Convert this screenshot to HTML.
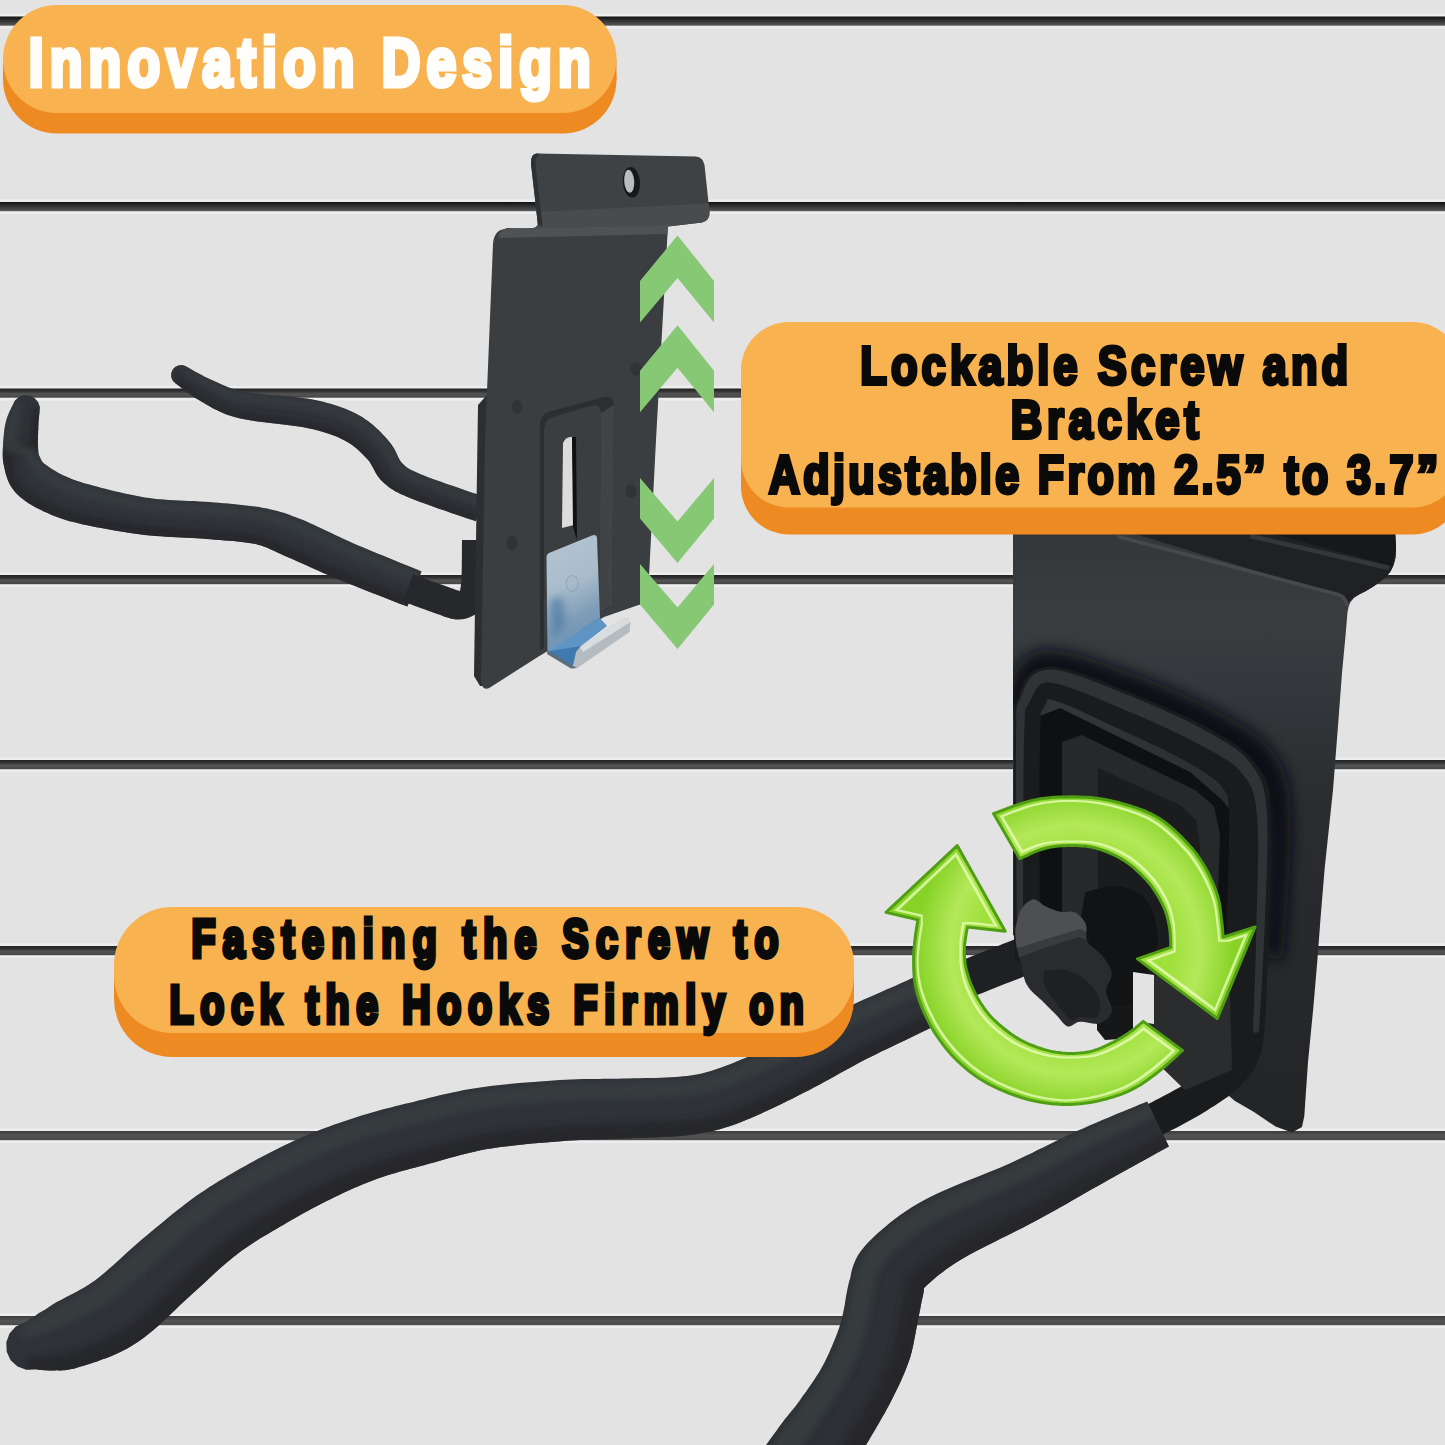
<!DOCTYPE html>
<html lang="en"><head><meta charset="utf-8"><title>Innovation Design</title>
<style>
html,body{margin:0;padding:0;background:#e3e3e3;}
body{width:1445px;height:1445px;overflow:hidden;position:relative;font-family:"Liberation Sans",sans-serif;}
svg{position:absolute;left:0;top:0;display:block}
text{font-family:"Liberation Sans",sans-serif;font-weight:bold;}
</style></head><body>
<svg width="1445" height="1445" viewBox="0 0 1445 1445">
<defs>
<linearGradient id="ln" x1="0" y1="0" x2="0" y2="1"><stop offset="0" stop-color="#111"/><stop offset="0.35" stop-color="#2a2a2a"/><stop offset="1" stop-color="#5a5a5a"/></linearGradient>
<linearGradient id="grn" x1="0" y1="0" x2="1" y2="1"><stop offset="0" stop-color="#a5e23e"/><stop offset="1" stop-color="#7fcf24"/></linearGradient>
<linearGradient id="silver" x1="0" y1="0" x2="0" y2="1"><stop offset="0" stop-color="#b4bfc7"/><stop offset="0.55" stop-color="#9fb0bd"/><stop offset="1" stop-color="#4f8fc6"/></linearGradient>
</defs>
<rect width="1445" height="1445" fill="#e3e3e3"/>

<defs><linearGradient id="ln2" x1="0" y1="0" x2="0" y2="1"><stop offset="0" stop-color="#242424"/><stop offset="0.25" stop-color="#2e2e2e"/><stop offset="0.6" stop-color="#545454"/><stop offset="1" stop-color="#444"/></linearGradient><linearGradient id="ln3" x1="0" y1="0" x2="0" y2="1"><stop offset="0" stop-color="#3c3c3c"/><stop offset="0.5" stop-color="#535353"/><stop offset="1" stop-color="#4a4a4a"/></linearGradient></defs>
<rect x="0" y="14.0" width="1445" height="14.5" fill="#ededed"/>
<rect x="0" y="16.5" width="1445" height="9.2" fill="url(#ln)"/>
<rect x="0" y="199.5" width="1445" height="14.5" fill="#ededed"/>
<rect x="0" y="202.0" width="1445" height="9.2" fill="url(#ln)"/>
<rect x="0" y="386.0" width="1445" height="14.5" fill="#ededed"/>
<rect x="0" y="388.5" width="1445" height="9.2" fill="url(#ln2)"/>
<rect x="0" y="572.5" width="1445" height="14.5" fill="#ededed"/>
<rect x="0" y="575.0" width="1445" height="9.2" fill="url(#ln2)"/>
<rect x="0" y="757.5" width="1445" height="14.5" fill="#ededed"/>
<rect x="0" y="760.0" width="1445" height="9.2" fill="url(#ln2)"/>
<rect x="0" y="943.5" width="1445" height="14.5" fill="#ededed"/>
<rect x="0" y="946.0" width="1445" height="9.2" fill="url(#ln2)"/>
<rect x="0" y="1128.5" width="1445" height="14.5" fill="#ededed"/>
<rect x="0" y="1131.0" width="1445" height="9.2" fill="url(#ln3)"/>
<rect x="0" y="1313.5" width="1445" height="14.5" fill="#ededed"/>
<rect x="0" y="1316.0" width="1445" height="9.2" fill="url(#ln3)"/>
<g id="hookA">
<defs><clipPath id="fc1"><path d="M175.6,383.4 L176.7,384.3 L178.1,385.3 L179.7,386.5 L181.6,388.0 L183.6,389.6 L185.9,391.3 L188.3,393.0 L190.8,394.8 L193.4,396.7 L196.1,398.4 L198.9,400.1 L201.6,401.7 L204.0,403.1 L206.3,404.4 L208.6,405.8 L211.1,407.2 L213.7,408.7 L216.6,410.1 L219.6,411.6 L222.9,413.0 L226.5,414.4 L230.4,415.7 L234.5,417.0 L239.2,418.2 L244.3,419.3 L249.9,420.3 L255.8,421.2 L262.0,422.0 L268.3,422.8 L274.7,423.5 L281.1,424.3 L287.3,425.0 L293.2,425.7 L298.7,426.5 L303.7,427.3 L308.1,428.2 L312.2,429.1 L316.2,430.1 L319.8,431.0 L323.2,432.0 L326.4,433.0 L329.4,434.0 L332.3,435.0 L335.0,436.0 L337.6,437.1 L340.1,438.3 L342.6,439.5 L345.1,440.7 L347.3,442.0 L349.4,443.2 L351.4,444.6 L353.4,446.0 L355.3,447.6 L357.2,449.1 L359.0,450.8 L360.8,452.4 L362.6,454.2 L364.3,455.9 L366.0,457.7 L367.5,459.2 L368.5,460.4 L369.4,461.5 L370.2,462.8 L371.0,464.2 L371.9,465.8 L372.9,467.6 L373.9,469.6 L375.1,471.8 L376.5,474.2 L378.2,476.7 L380.2,479.2 L382.4,481.4 L384.2,483.2 L385.8,484.6 L387.5,486.0 L389.3,487.4 L391.2,488.8 L393.3,490.1 L395.5,491.4 L397.9,492.6 L400.4,493.9 L403.2,495.1 L406.4,496.5 L410.0,498.0 L414.4,499.8 L419.6,501.7 L425.4,503.8 L431.6,506.1 L438.1,508.4 L444.7,510.6 L451.2,512.9 L457.4,515.0 L463.2,517.0 L468.2,518.7 L472.5,520.1 L475.7,521.3 L484.3,496.7 L481.0,495.6 L476.6,494.1 L471.5,492.4 L465.8,490.4 L459.6,488.3 L453.2,486.1 L446.7,483.9 L440.3,481.6 L434.2,479.5 L428.7,477.4 L423.9,475.6 L420.0,474.0 L416.8,472.6 L414.0,471.3 L411.7,470.3 L409.9,469.3 L408.5,468.5 L407.3,467.7 L406.4,467.1 L405.6,466.4 L404.8,465.7 L403.9,464.8 L402.7,463.7 L401.6,462.6 L400.9,461.7 L400.4,460.9 L399.8,459.9 L399.1,458.7 L398.3,457.2 L397.5,455.4 L396.5,453.3 L395.4,451.1 L394.1,448.6 L392.5,446.0 L390.6,443.3 L388.5,440.8 L386.6,438.6 L384.8,436.6 L382.8,434.5 L380.8,432.3 L378.6,430.1 L376.2,427.9 L373.7,425.6 L371.1,423.4 L368.3,421.3 L365.3,419.2 L362.2,417.1 L358.9,415.3 L355.8,413.6 L352.6,412.0 L349.3,410.5 L346.0,409.1 L342.5,407.7 L339.0,406.4 L335.2,405.2 L331.4,404.0 L327.3,402.9 L323.1,401.8 L318.7,400.8 L313.9,399.8 L308.5,398.8 L302.7,398.0 L296.7,397.3 L290.4,396.6 L284.0,396.0 L277.6,395.5 L271.2,394.9 L265.1,394.4 L259.2,393.8 L253.8,393.2 L249.0,392.5 L244.8,391.8 L241.2,391.0 L237.8,390.2 L234.8,389.4 L232.0,388.5 L229.5,387.7 L227.1,386.8 L224.7,385.8 L222.4,384.8 L220.0,383.7 L217.6,382.6 L215.0,381.4 L212.4,380.3 L210.0,379.2 L207.6,378.1 L205.1,376.9 L202.6,375.6 L200.2,374.3 L197.7,373.0 L195.4,371.7 L193.2,370.5 L191.2,369.3 L189.4,368.2 L187.7,367.3 L186.4,366.6 L182.7,365.1 L178.8,365.2 L175.3,366.8 L172.6,369.6 L171.1,373.3 L171.2,377.2 L172.8,380.7Z"/></clipPath></defs>
<path d="M175.6,383.4 L176.7,384.3 L178.1,385.3 L179.7,386.5 L181.6,388.0 L183.6,389.6 L185.9,391.3 L188.3,393.0 L190.8,394.8 L193.4,396.7 L196.1,398.4 L198.9,400.1 L201.6,401.7 L204.0,403.1 L206.3,404.4 L208.6,405.8 L211.1,407.2 L213.7,408.7 L216.6,410.1 L219.6,411.6 L222.9,413.0 L226.5,414.4 L230.4,415.7 L234.5,417.0 L239.2,418.2 L244.3,419.3 L249.9,420.3 L255.8,421.2 L262.0,422.0 L268.3,422.8 L274.7,423.5 L281.1,424.3 L287.3,425.0 L293.2,425.7 L298.7,426.5 L303.7,427.3 L308.1,428.2 L312.2,429.1 L316.2,430.1 L319.8,431.0 L323.2,432.0 L326.4,433.0 L329.4,434.0 L332.3,435.0 L335.0,436.0 L337.6,437.1 L340.1,438.3 L342.6,439.5 L345.1,440.7 L347.3,442.0 L349.4,443.2 L351.4,444.6 L353.4,446.0 L355.3,447.6 L357.2,449.1 L359.0,450.8 L360.8,452.4 L362.6,454.2 L364.3,455.9 L366.0,457.7 L367.5,459.2 L368.5,460.4 L369.4,461.5 L370.2,462.8 L371.0,464.2 L371.9,465.8 L372.9,467.6 L373.9,469.6 L375.1,471.8 L376.5,474.2 L378.2,476.7 L380.2,479.2 L382.4,481.4 L384.2,483.2 L385.8,484.6 L387.5,486.0 L389.3,487.4 L391.2,488.8 L393.3,490.1 L395.5,491.4 L397.9,492.6 L400.4,493.9 L403.2,495.1 L406.4,496.5 L410.0,498.0 L414.4,499.8 L419.6,501.7 L425.4,503.8 L431.6,506.1 L438.1,508.4 L444.7,510.6 L451.2,512.9 L457.4,515.0 L463.2,517.0 L468.2,518.7 L472.5,520.1 L475.7,521.3 L484.3,496.7 L481.0,495.6 L476.6,494.1 L471.5,492.4 L465.8,490.4 L459.6,488.3 L453.2,486.1 L446.7,483.9 L440.3,481.6 L434.2,479.5 L428.7,477.4 L423.9,475.6 L420.0,474.0 L416.8,472.6 L414.0,471.3 L411.7,470.3 L409.9,469.3 L408.5,468.5 L407.3,467.7 L406.4,467.1 L405.6,466.4 L404.8,465.7 L403.9,464.8 L402.7,463.7 L401.6,462.6 L400.9,461.7 L400.4,460.9 L399.8,459.9 L399.1,458.7 L398.3,457.2 L397.5,455.4 L396.5,453.3 L395.4,451.1 L394.1,448.6 L392.5,446.0 L390.6,443.3 L388.5,440.8 L386.6,438.6 L384.8,436.6 L382.8,434.5 L380.8,432.3 L378.6,430.1 L376.2,427.9 L373.7,425.6 L371.1,423.4 L368.3,421.3 L365.3,419.2 L362.2,417.1 L358.9,415.3 L355.8,413.6 L352.6,412.0 L349.3,410.5 L346.0,409.1 L342.5,407.7 L339.0,406.4 L335.2,405.2 L331.4,404.0 L327.3,402.9 L323.1,401.8 L318.7,400.8 L313.9,399.8 L308.5,398.8 L302.7,398.0 L296.7,397.3 L290.4,396.6 L284.0,396.0 L277.6,395.5 L271.2,394.9 L265.1,394.4 L259.2,393.8 L253.8,393.2 L249.0,392.5 L244.8,391.8 L241.2,391.0 L237.8,390.2 L234.8,389.4 L232.0,388.5 L229.5,387.7 L227.1,386.8 L224.7,385.8 L222.4,384.8 L220.0,383.7 L217.6,382.6 L215.0,381.4 L212.4,380.3 L210.0,379.2 L207.6,378.1 L205.1,376.9 L202.6,375.6 L200.2,374.3 L197.7,373.0 L195.4,371.7 L193.2,370.5 L191.2,369.3 L189.4,368.2 L187.7,367.3 L186.4,366.6 L182.7,365.1 L178.8,365.2 L175.3,366.8 L172.6,369.6 L171.1,373.3 L171.2,377.2 L172.8,380.7Z" fill="#303338"/>
<g clip-path="url(#fc1)"><path d="M174.4,384.8 L176.1,386.1 L178.5,388.1 L181.5,390.5 L184.7,392.9 L188.2,395.4 L192.2,398.1 L196.2,400.9 L200.2,403.4 L203.8,405.7 L207.4,407.9 L211.2,410.1 L215.6,412.2 L220.5,414.4 L225.7,416.6 L231.7,418.7 L238.7,420.6 L246.8,422.2 L255.9,423.5 L265.3,424.8 L274.3,426.0 L283.1,427.2 L292.0,428.4 L300.4,429.6 L307.8,430.8 L313.9,432.1 L319.2,433.5 L324.0,434.9 L328.6,436.5 L332.9,438.0 L336.7,439.6 L340.3,441.2 L343.7,443.0 L346.9,444.9 L349.9,446.9 L352.8,449.0 L355.6,451.2 L358.3,453.5 L360.9,455.9 L363.3,458.4 L365.4,460.6 L366.8,462.6 L368.0,464.4 L369.3,466.6 L370.9,469.2 L372.9,472.3 L375.1,475.8 L377.6,479.4 L380.3,482.8 L383.0,485.6 L385.8,487.9 L388.8,490.1 L392.1,492.2 L395.6,494.2 L399.3,496.0 L403.6,497.9 L409.3,500.2 L416.8,503.1 L425.7,506.4 L435.1,509.7 L443.9,512.8 L452.7,515.9 L461.6,519.0 L469.5,521.6 L475.0,523.5 L477.2,524.3 L479.8,515.8 L478.6,515.4 L477.9,515.1 L476.2,514.9 L474.5,515.4 L473.1,516.4 L472.3,517.9 L472.0,519.6 L472.5,521.3 L473.5,522.6 L475.0,523.5 L475.7,523.8 L476.9,524.2 L480.1,515.9 L477.9,515.1 L472.4,513.3 L464.5,510.6 L455.6,507.5 L446.8,504.5 L438.1,501.4 L428.7,498.1 L419.9,494.8 L412.5,492.0 L407.1,489.8 L403.1,488.0 L399.8,486.3 L396.7,484.5 L393.8,482.6 L391.4,480.8 L389.3,478.9 L387.2,476.7 L385.1,474.0 L382.9,470.8 L380.8,467.4 L378.9,464.3 L377.4,461.8 L376.1,459.6 L374.6,457.2 L372.7,454.6 L370.3,451.9 L367.7,449.1 L364.8,446.3 L361.8,443.7 L358.8,441.3 L355.6,438.9 L352.2,436.5 L348.5,434.4 L344.7,432.3 L340.7,430.5 L336.4,428.7 L331.8,427.1 L327.0,425.5 L321.9,424.0 L316.2,422.5 L309.6,421.1 L301.8,419.9 L293.3,418.7 L284.4,417.7 L275.5,416.5 L266.5,415.4 L257.2,414.2 L248.3,413.0 L240.7,411.6 L234.3,410.0 L228.8,408.2 L223.9,406.2 L219.2,404.3 L215.1,402.4 L211.6,400.6 L208.1,398.6 L204.5,396.5 L200.5,394.1 L196.4,391.6 L192.5,389.1 L189.0,386.8 L185.8,384.6 L182.8,382.5 L180.3,380.7 L178.5,379.4 L177.3,378.8 L176.0,378.7 L174.7,379.1 L173.7,380.0 L173.2,381.2 L173.1,382.5 L173.5,383.8Z" fill="#25282c" filter="url(#bl3)" opacity="0.9"/><path d="M182.7,372.5 L184.6,373.7 L187.3,375.5 L190.4,377.5 L193.7,379.5 L197.2,381.5 L201.0,383.6 L204.9,385.8 L208.7,387.8 L212.3,389.7 L215.8,391.5 L219.5,393.3 L223.5,395.0 L227.6,396.6 L231.9,398.2 L236.9,399.7 L242.9,401.1 L250.4,402.2 L258.8,403.3 L267.7,404.3 L276.5,405.3 L285.5,406.3 L294.9,407.4 L303.9,408.5 L311.9,409.7 L318.7,411.1 L324.7,412.7 L330.3,414.3 L335.6,416.0 L340.7,417.9 L345.4,419.8 L349.8,421.9 L354.0,424.2 L358.2,426.7 L362.2,429.5 L366.0,432.4 L369.6,435.3 L372.9,438.3 L375.8,441.2 L378.6,444.1 L381.1,447.1 L383.3,450.2 L385.3,453.5 L387.2,456.8 L389.0,459.8 L390.5,462.4 L391.8,464.6 L393.2,466.8 L394.7,469.0 L396.4,470.8 L398.0,472.5 L400.0,474.0 L402.4,475.6 L405.0,477.1 L407.8,478.6 L411.4,480.3 L416.5,482.4 L423.6,485.1 L432.3,488.3 L441.5,491.6 L450.2,494.7 L458.9,497.7 L467.9,500.8 L475.8,503.5 L481.3,505.3 L483.5,506.1 L485.7,498.6 L484.5,498.2 L483.8,497.9 L482.3,497.7 L480.8,498.1 L479.6,499.0 L478.9,500.4 L478.7,501.9 L479.0,503.3 L480.0,504.6 L481.3,505.3 L482.0,505.6 L483.2,506.0 L486.0,498.7 L483.8,497.9 L478.3,496.1 L470.4,493.4 L461.4,490.4 L452.8,487.3 L444.1,484.3 L434.9,481.0 L426.3,477.8 L419.4,475.2 L414.6,473.1 L411.3,471.6 L408.9,470.2 L406.6,468.9 L404.7,467.6 L403.4,466.5 L402.3,465.3 L401.1,463.9 L399.9,462.3 L398.8,460.5 L397.6,458.3 L396.1,455.7 L394.4,452.7 L392.5,449.3 L390.3,445.6 L387.7,442.0 L385.0,438.6 L382.0,435.3 L378.7,432.0 L375.2,428.9 L371.4,425.7 L367.3,422.5 L362.9,419.4 L358.4,416.6 L353.7,414.1 L348.9,411.8 L343.9,409.7 L338.5,407.8 L332.9,405.9 L327.0,404.2 L320.6,402.6 L313.4,401.2 L305.1,399.9 L295.9,398.9 L286.5,397.9 L277.5,396.9 L268.6,395.9 L259.7,395.0 L251.5,394.1 L244.4,393.1 L238.8,391.9 L234.3,390.7 L230.3,389.3 L226.3,387.8 L222.5,386.3 L219.0,384.8 L215.5,383.1 L212.0,381.4 L208.1,379.5 L204.2,377.6 L200.5,375.6 L197.0,373.8 L193.7,372.0 L190.5,370.1 L187.8,368.5 L185.8,367.4 L184.7,367.0 L183.6,367.0 L182.5,367.5 L181.7,368.4 L181.3,369.5 L181.3,370.7 L181.8,371.7Z" fill="#383c41" filter="url(#bl3)" opacity="0.9"/></g>
<defs><clipPath id="fc2"><path d="M12.5,405.4 L12.2,406.0 L11.8,406.7 L11.3,407.7 L10.8,408.9 L10.1,410.2 L9.5,411.6 L8.8,413.2 L8.1,414.9 L7.4,416.7 L6.8,418.6 L6.2,420.5 L5.7,422.5 L5.3,424.4 L4.9,426.3 L4.6,428.3 L4.3,430.3 L4.1,432.3 L3.9,434.3 L3.7,436.3 L3.5,438.3 L3.3,440.3 L3.2,442.3 L3.1,444.2 L3.0,445.9 L2.9,447.4 L2.8,448.9 L2.8,450.4 L2.7,452.0 L2.7,453.6 L2.7,455.4 L2.8,457.2 L2.9,459.2 L3.1,461.2 L3.4,463.3 L3.9,465.4 L4.3,467.4 L4.7,469.1 L5.0,470.7 L5.4,472.5 L6.0,474.4 L6.6,476.6 L7.4,478.8 L8.3,481.2 L9.5,483.7 L10.9,486.2 L12.6,488.8 L14.5,491.3 L16.7,493.7 L18.9,495.8 L21.1,497.7 L23.4,499.5 L25.7,501.3 L28.2,502.9 L30.7,504.5 L33.2,506.0 L35.8,507.4 L38.4,508.8 L41.1,510.1 L43.8,511.4 L46.5,512.6 L49.1,513.8 L51.7,514.9 L54.4,516.0 L57.1,517.0 L59.9,518.0 L62.8,519.0 L65.8,519.9 L68.9,520.9 L72.2,521.8 L75.7,522.6 L79.3,523.5 L83.2,524.4 L87.4,525.3 L91.9,526.3 L96.6,527.2 L101.5,528.1 L106.7,529.1 L112.0,530.0 L117.4,530.9 L122.9,531.8 L128.3,532.7 L133.8,533.5 L139.3,534.2 L144.7,534.9 L150.1,535.4 L155.5,535.9 L160.9,536.3 L166.3,536.7 L171.6,537.0 L176.9,537.3 L182.1,537.5 L187.1,537.8 L192.1,538.0 L196.9,538.3 L201.6,538.6 L206.1,538.9 L210.8,539.3 L215.5,539.7 L220.1,540.0 L224.7,540.4 L229.2,540.7 L233.5,541.1 L237.7,541.5 L241.7,541.9 L245.6,542.4 L249.2,542.9 L252.7,543.5 L255.9,544.1 L258.8,544.9 L261.4,545.6 L263.7,546.4 L265.9,547.2 L267.9,548.0 L269.9,548.9 L272.1,549.9 L274.4,551.0 L276.9,552.2 L279.7,553.6 L282.9,555.0 L286.3,556.5 L289.8,558.0 L293.4,559.5 L297.1,561.2 L301.1,562.9 L305.2,564.8 L309.5,566.7 L313.9,568.7 L318.5,570.8 L323.3,572.9 L328.2,575.0 L333.2,577.2 L338.4,579.4 L343.9,581.6 L349.9,584.0 L356.3,586.6 L362.9,589.2 L369.7,591.9 L376.4,594.5 L382.9,597.1 L389.1,599.5 L394.8,601.7 L399.8,603.7 L404.1,605.3 L407.4,606.6 L421.6,571.4 L418.2,570.0 L413.9,568.2 L408.9,566.2 L403.2,563.9 L397.1,561.4 L390.6,558.8 L384.0,556.1 L377.4,553.4 L370.9,550.7 L364.6,548.1 L358.8,545.7 L353.6,543.4 L348.8,541.3 L344.2,539.2 L339.6,537.1 L335.1,534.9 L330.6,532.8 L326.3,530.7 L322.0,528.7 L317.8,526.7 L313.6,524.7 L309.6,522.9 L305.5,521.1 L301.7,519.5 L298.2,518.2 L295.1,517.0 L292.2,515.9 L289.3,514.8 L286.5,513.8 L283.5,512.8 L280.5,511.9 L277.4,511.0 L274.1,510.2 L270.7,509.4 L267.1,508.6 L263.1,507.9 L259.0,507.1 L254.7,506.5 L250.3,505.9 L245.9,505.4 L241.4,504.9 L236.9,504.4 L232.3,504.0 L227.7,503.6 L223.0,503.2 L218.4,502.8 L213.8,502.4 L209.1,502.1 L204.1,501.7 L199.1,501.4 L193.9,501.1 L188.8,500.9 L183.7,500.7 L178.6,500.5 L173.5,500.3 L168.5,500.0 L163.6,499.6 L158.7,499.2 L154.0,498.7 L149.3,498.1 L144.6,497.4 L139.7,496.6 L134.7,495.6 L129.7,494.6 L124.6,493.5 L119.6,492.3 L114.6,491.2 L109.8,490.0 L105.2,488.8 L100.8,487.7 L96.6,486.6 L92.8,485.6 L89.3,484.6 L86.1,483.7 L83.2,482.9 L80.6,482.0 L78.1,481.2 L75.8,480.4 L73.7,479.7 L71.6,478.9 L69.6,478.1 L67.6,477.2 L65.6,476.3 L63.5,475.4 L61.5,474.4 L59.5,473.4 L57.6,472.4 L55.8,471.3 L54.0,470.3 L52.3,469.3 L50.8,468.3 L49.4,467.3 L48.1,466.4 L47.0,465.6 L46.0,464.9 L45.3,464.3 L44.9,464.0 L44.5,463.8 L44.1,463.5 L43.7,463.2 L43.3,462.8 L42.8,462.3 L42.3,461.7 L41.8,460.9 L41.3,460.0 L40.8,458.9 L40.2,457.7 L39.7,456.6 L39.4,455.9 L39.1,455.4 L38.9,454.9 L38.8,454.4 L38.6,453.8 L38.5,453.1 L38.4,452.3 L38.3,451.4 L38.2,450.3 L38.1,449.0 L38.1,447.6 L38.0,446.1 L37.9,444.7 L37.9,443.2 L37.9,441.7 L37.9,440.0 L37.9,438.4 L38.0,436.7 L38.0,435.0 L38.1,433.4 L38.1,431.8 L38.2,430.2 L38.3,428.8 L38.3,427.5 L38.3,426.3 L38.4,425.1 L38.4,423.9 L38.5,422.5 L38.6,421.1 L38.7,419.7 L38.9,418.4 L39.0,417.1 L39.1,415.8 L39.3,414.6 L39.4,413.5 L39.5,412.6 L39.9,407.1 L38.1,402.0 L34.5,397.9 L29.6,395.5 L24.1,395.1 L19.0,396.9 L14.9,400.5Z"/></clipPath></defs>
<path d="M12.5,405.4 L12.2,406.0 L11.8,406.7 L11.3,407.7 L10.8,408.9 L10.1,410.2 L9.5,411.6 L8.8,413.2 L8.1,414.9 L7.4,416.7 L6.8,418.6 L6.2,420.5 L5.7,422.5 L5.3,424.4 L4.9,426.3 L4.6,428.3 L4.3,430.3 L4.1,432.3 L3.9,434.3 L3.7,436.3 L3.5,438.3 L3.3,440.3 L3.2,442.3 L3.1,444.2 L3.0,445.9 L2.9,447.4 L2.8,448.9 L2.8,450.4 L2.7,452.0 L2.7,453.6 L2.7,455.4 L2.8,457.2 L2.9,459.2 L3.1,461.2 L3.4,463.3 L3.9,465.4 L4.3,467.4 L4.7,469.1 L5.0,470.7 L5.4,472.5 L6.0,474.4 L6.6,476.6 L7.4,478.8 L8.3,481.2 L9.5,483.7 L10.9,486.2 L12.6,488.8 L14.5,491.3 L16.7,493.7 L18.9,495.8 L21.1,497.7 L23.4,499.5 L25.7,501.3 L28.2,502.9 L30.7,504.5 L33.2,506.0 L35.8,507.4 L38.4,508.8 L41.1,510.1 L43.8,511.4 L46.5,512.6 L49.1,513.8 L51.7,514.9 L54.4,516.0 L57.1,517.0 L59.9,518.0 L62.8,519.0 L65.8,519.9 L68.9,520.9 L72.2,521.8 L75.7,522.6 L79.3,523.5 L83.2,524.4 L87.4,525.3 L91.9,526.3 L96.6,527.2 L101.5,528.1 L106.7,529.1 L112.0,530.0 L117.4,530.9 L122.9,531.8 L128.3,532.7 L133.8,533.5 L139.3,534.2 L144.7,534.9 L150.1,535.4 L155.5,535.9 L160.9,536.3 L166.3,536.7 L171.6,537.0 L176.9,537.3 L182.1,537.5 L187.1,537.8 L192.1,538.0 L196.9,538.3 L201.6,538.6 L206.1,538.9 L210.8,539.3 L215.5,539.7 L220.1,540.0 L224.7,540.4 L229.2,540.7 L233.5,541.1 L237.7,541.5 L241.7,541.9 L245.6,542.4 L249.2,542.9 L252.7,543.5 L255.9,544.1 L258.8,544.9 L261.4,545.6 L263.7,546.4 L265.9,547.2 L267.9,548.0 L269.9,548.9 L272.1,549.9 L274.4,551.0 L276.9,552.2 L279.7,553.6 L282.9,555.0 L286.3,556.5 L289.8,558.0 L293.4,559.5 L297.1,561.2 L301.1,562.9 L305.2,564.8 L309.5,566.7 L313.9,568.7 L318.5,570.8 L323.3,572.9 L328.2,575.0 L333.2,577.2 L338.4,579.4 L343.9,581.6 L349.9,584.0 L356.3,586.6 L362.9,589.2 L369.7,591.9 L376.4,594.5 L382.9,597.1 L389.1,599.5 L394.8,601.7 L399.8,603.7 L404.1,605.3 L407.4,606.6 L421.6,571.4 L418.2,570.0 L413.9,568.2 L408.9,566.2 L403.2,563.9 L397.1,561.4 L390.6,558.8 L384.0,556.1 L377.4,553.4 L370.9,550.7 L364.6,548.1 L358.8,545.7 L353.6,543.4 L348.8,541.3 L344.2,539.2 L339.6,537.1 L335.1,534.9 L330.6,532.8 L326.3,530.7 L322.0,528.7 L317.8,526.7 L313.6,524.7 L309.6,522.9 L305.5,521.1 L301.7,519.5 L298.2,518.2 L295.1,517.0 L292.2,515.9 L289.3,514.8 L286.5,513.8 L283.5,512.8 L280.5,511.9 L277.4,511.0 L274.1,510.2 L270.7,509.4 L267.1,508.6 L263.1,507.9 L259.0,507.1 L254.7,506.5 L250.3,505.9 L245.9,505.4 L241.4,504.9 L236.9,504.4 L232.3,504.0 L227.7,503.6 L223.0,503.2 L218.4,502.8 L213.8,502.4 L209.1,502.1 L204.1,501.7 L199.1,501.4 L193.9,501.1 L188.8,500.9 L183.7,500.7 L178.6,500.5 L173.5,500.3 L168.5,500.0 L163.6,499.6 L158.7,499.2 L154.0,498.7 L149.3,498.1 L144.6,497.4 L139.7,496.6 L134.7,495.6 L129.7,494.6 L124.6,493.5 L119.6,492.3 L114.6,491.2 L109.8,490.0 L105.2,488.8 L100.8,487.7 L96.6,486.6 L92.8,485.6 L89.3,484.6 L86.1,483.7 L83.2,482.9 L80.6,482.0 L78.1,481.2 L75.8,480.4 L73.7,479.7 L71.6,478.9 L69.6,478.1 L67.6,477.2 L65.6,476.3 L63.5,475.4 L61.5,474.4 L59.5,473.4 L57.6,472.4 L55.8,471.3 L54.0,470.3 L52.3,469.3 L50.8,468.3 L49.4,467.3 L48.1,466.4 L47.0,465.6 L46.0,464.9 L45.3,464.3 L44.9,464.0 L44.5,463.8 L44.1,463.5 L43.7,463.2 L43.3,462.8 L42.8,462.3 L42.3,461.7 L41.8,460.9 L41.3,460.0 L40.8,458.9 L40.2,457.7 L39.7,456.6 L39.4,455.9 L39.1,455.4 L38.9,454.9 L38.8,454.4 L38.6,453.8 L38.5,453.1 L38.4,452.3 L38.3,451.4 L38.2,450.3 L38.1,449.0 L38.1,447.6 L38.0,446.1 L37.9,444.7 L37.9,443.2 L37.9,441.7 L37.9,440.0 L37.9,438.4 L38.0,436.7 L38.0,435.0 L38.1,433.4 L38.1,431.8 L38.2,430.2 L38.3,428.8 L38.3,427.5 L38.3,426.3 L38.4,425.1 L38.4,423.9 L38.5,422.5 L38.6,421.1 L38.7,419.7 L38.9,418.4 L39.0,417.1 L39.1,415.8 L39.3,414.6 L39.4,413.5 L39.5,412.6 L39.9,407.1 L38.1,402.0 L34.5,397.9 L29.6,395.5 L24.1,395.1 L19.0,396.9 L14.9,400.5Z" fill="#303338"/>
<g clip-path="url(#fc2)"><path d="M32.6,411.5 L32.4,412.7 L32.0,414.4 L31.6,416.4 L31.3,418.5 L30.9,420.5 L30.6,422.5 L30.3,424.6 L30.1,426.8 L29.9,429.0 L29.7,431.4 L29.5,433.9 L29.5,437.2 L30.4,441.0 L31.4,443.0 L31.8,441.6 L32.3,441.0 L27.4,442.7 L18.8,444.7 L9.6,447.0 L2.2,450.1 L-2.3,456.5 L-1.5,462.9 L0.3,466.3 L1.1,468.3 L1.4,470.4 L1.9,473.4 L2.8,476.8 L4.2,480.3 L6.0,484.1 L8.1,488.1 L10.7,492.1 L13.8,496.0 L17.3,499.4 L21.0,502.4 L24.8,505.1 L28.7,507.6 L32.6,510.0 L36.8,512.1 L40.9,514.1 L44.9,516.0 L49.0,517.8 L53.0,519.4 L57.2,521.0 L61.7,522.5 L66.4,523.9 L71.4,525.3 L76.6,526.6 L82.5,527.9 L89.1,529.3 L96.2,530.7 L103.8,532.1 L111.5,533.5 L119.4,534.7 L127.6,536.0 L136.0,537.2 L144.3,538.2 L152.6,539.0 L160.8,539.6 L168.8,540.1 L176.6,540.6 L184.2,541.0 L191.7,541.4 L198.9,541.8 L206.0,542.3 L213.1,542.7 L220.0,543.2 L226.7,543.8 L233.1,544.4 L239.2,545.0 L245.1,545.7 L250.5,546.5 L255.2,547.4 L259.0,548.4 L262.1,549.4 L265.1,550.7 L268.6,552.1 L272.2,553.7 L275.9,555.5 L280.0,557.5 L284.7,559.7 L289.9,562.0 L295.6,564.6 L301.7,567.2 L308.1,570.0 L314.7,573.0 L321.6,576.0 L329.0,579.2 L337.0,582.6 L346.1,586.3 L356.0,590.2 L365.9,594.1 L375.1,597.7 L384.1,601.3 L393.1,604.7 L400.8,607.7 L406.2,609.8 L408.4,610.7 L412.9,598.6 L411.7,598.1 L410.9,597.8 L408.5,597.4 L406.0,597.9 L403.9,599.3 L402.6,601.5 L402.1,603.9 L402.7,606.4 L404.1,608.5 L406.2,609.8 L407.0,610.1 L408.2,610.6 L413.1,598.7 L410.9,597.8 L405.5,595.7 L397.8,592.6 L388.9,589.1 L379.9,585.6 L370.7,581.9 L360.8,578.0 L351.1,574.0 L342.1,570.4 L334.3,567.0 L327.0,563.7 L320.2,560.7 L313.6,557.7 L307.2,554.8 L301.1,552.1 L295.5,549.6 L290.3,547.3 L285.7,545.2 L281.5,543.3 L277.5,541.6 L273.6,540.0 L269.8,538.6 L266.3,537.3 L262.3,536.2 L257.8,535.1 L252.5,534.1 L246.7,533.3 L240.6,532.6 L234.4,531.9 L227.8,531.3 L221.0,530.7 L214.0,530.2 L206.8,529.7 L199.6,529.3 L192.3,528.9 L184.9,528.5 L177.4,528.1 L169.6,527.6 L161.6,527.1 L153.7,526.5 L145.8,525.7 L137.7,524.6 L129.6,523.3 L121.5,522.0 L113.7,520.6 L106.2,519.1 L98.8,517.7 L91.9,516.1 L85.5,514.7 L79.9,513.3 L74.9,512.0 L70.3,510.7 L66.0,509.3 L61.9,507.9 L58.1,506.5 L54.4,505.0 L50.7,503.3 L46.9,501.5 L43.1,499.7 L39.5,497.7 L36.1,495.7 L32.7,493.5 L29.4,491.2 L26.5,488.9 L24.1,486.6 L21.9,483.9 L19.7,480.9 L17.8,477.7 L16.3,474.8 L15.2,472.4 L14.5,470.2 L13.9,467.8 L13.1,464.5 L11.5,460.8 L10.1,458.5 L9.7,459.3 L8.9,460.3 L13.3,458.6 L21.7,456.4 L30.9,454.1 L38.1,451.3 L42.8,445.9 L42.7,439.7 L41.4,436.9 L41.0,435.8 L41.1,434.3 L41.1,432.0 L41.2,429.7 L41.3,427.5 L41.3,425.4 L41.4,423.4 L41.5,421.5 L41.5,419.6 L41.6,417.7 L41.8,415.8 L41.9,414.0 L42.0,412.8 L41.9,410.9 L41.1,409.3 L39.8,408.0 L38.0,407.4 L36.2,407.5 L34.5,408.3 L33.2,409.7Z" fill="#25282c" filter="url(#bl3)" opacity="0.9"/><path d="M14.0,405.1 L13.5,406.2 L12.8,407.7 L11.9,409.6 L11.0,411.8 L10.1,414.1 L9.2,416.7 L8.2,419.5 L7.4,422.4 L6.8,425.4 L6.3,428.4 L5.9,431.4 L5.6,433.9 L5.0,436.1 L3.9,439.4 L3.5,444.4 L6.6,449.9 L12.3,453.0 L19.0,455.2 L25.3,457.0 L28.9,458.3 L28.5,458.0 L27.7,455.5 L27.3,456.5 L27.2,460.0 L28.1,462.6 L28.8,464.6 L29.7,466.6 L30.7,468.5 L31.6,470.2 L32.7,471.8 L34.0,473.3 L35.6,474.9 L37.5,476.5 L39.6,478.2 L42.1,479.9 L44.8,481.6 L47.7,483.3 L50.9,485.1 L54.2,486.8 L57.5,488.4 L60.7,489.9 L64.0,491.2 L67.5,492.6 L71.2,493.9 L75.2,495.2 L79.4,496.5 L84.1,497.8 L89.3,499.2 L95.5,500.7 L102.3,502.3 L109.5,504.0 L116.8,505.5 L124.3,507.0 L132.0,508.5 L139.9,509.9 L147.7,511.0 L155.4,511.8 L163.0,512.4 L170.5,512.9 L178.0,513.4 L185.6,513.8 L193.2,514.2 L200.8,514.5 L208.1,515.0 L215.2,515.5 L222.2,516.0 L229.0,516.6 L235.6,517.2 L242.3,518.0 L248.8,518.7 L255.0,519.6 L260.7,520.6 L265.7,521.6 L270.3,522.8 L274.6,524.1 L279.0,525.5 L283.2,527.0 L287.3,528.6 L291.5,530.4 L296.3,532.5 L301.8,534.9 L307.7,537.5 L314.0,540.4 L320.4,543.3 L326.8,546.3 L333.4,549.4 L340.5,552.6 L348.2,556.0 L357.1,559.7 L366.8,563.7 L376.5,567.6 L385.6,571.3 L394.5,574.9 L403.4,578.5 L411.2,581.5 L416.6,583.7 L418.8,584.6 L422.8,573.9 L421.6,573.4 L420.9,573.1 L418.7,572.7 L416.5,573.2 L414.7,574.4 L413.4,576.3 L413.0,578.5 L413.5,580.6 L414.7,582.5 L416.6,583.7 L417.3,584.0 L418.5,584.5 L423.0,574.0 L420.9,573.1 L415.4,570.9 L407.7,567.8 L398.8,564.2 L389.9,560.6 L380.9,556.9 L371.2,552.9 L361.6,549.0 L352.9,545.3 L345.3,541.9 L338.4,538.6 L331.9,535.5 L325.4,532.5 L318.9,529.5 L312.7,526.6 L306.6,523.9 L301.0,521.4 L296.1,519.4 L291.6,517.6 L287.2,516.0 L282.6,514.5 L277.9,513.1 L273.1,511.9 L268.1,510.7 L262.7,509.7 L256.6,508.7 L250.2,507.8 L243.5,507.0 L236.8,506.3 L230.0,505.6 L223.1,505.0 L216.0,504.4 L208.8,503.9 L201.3,503.5 L193.7,503.1 L186.1,502.8 L178.6,502.3 L171.1,501.9 L163.7,501.4 L156.4,500.8 L149.1,500.0 L141.7,498.8 L134.1,497.4 L126.6,495.8 L119.3,494.2 L112.1,492.6 L105.1,490.9 L98.4,489.1 L92.4,487.5 L87.3,486.1 L82.9,484.9 L78.9,483.6 L75.2,482.4 L71.8,481.1 L68.7,479.9 L65.7,478.6 L62.8,477.3 L59.7,475.8 L56.7,474.2 L53.8,472.6 L51.3,471.1 L49.0,469.6 L47.0,468.2 L45.2,466.8 L43.7,465.6 L42.6,464.7 L42.0,464.1 L41.4,463.5 L40.8,462.6 L40.0,461.4 L39.2,459.9 L38.5,458.4 L38.1,457.8 L38.1,458.5 L38.5,457.1 L37.5,452.0 L33.8,448.8 L28.5,446.8 L22.1,445.0 L16.2,443.2 L13.4,441.9 L13.7,442.3 L14.0,441.7 L14.9,439.2 L15.7,435.7 L16.0,432.5 L16.3,429.7 L16.6,427.0 L17.1,424.5 L17.6,422.0 L18.2,419.5 L18.9,417.0 L19.6,414.8 L20.2,412.8 L20.8,411.0 L21.4,409.5 L21.8,408.4 L22.1,406.8 L21.8,405.2 L20.9,403.8 L19.5,402.9 L17.9,402.6 L16.3,402.9 L14.9,403.8Z" fill="#383c41" filter="url(#bl3)" opacity="0.9"/></g>
<path d="M403.1,601.6 L404.6,602.2 L406.7,602.9 L409.1,603.8 L411.9,604.8 L414.8,605.9 L417.9,607.0 L421.1,608.2 L424.3,609.3 L427.4,610.4 L430.3,611.5 L433.0,612.4 L435.2,613.2 L437.1,613.9 L438.8,614.5 L440.5,615.1 L442.1,615.7 L443.7,616.4 L445.4,617.0 L447.1,617.6 L449.0,618.1 L450.9,618.7 L453.1,619.1 L455.4,619.4 L457.7,619.5 L459.9,619.4 L462.0,619.3 L464.1,618.9 L466.2,618.4 L468.3,617.8 L470.3,617.0 L472.3,616.0 L474.3,614.9 L476.1,613.6 L477.8,612.2 L479.5,610.5 L480.8,608.9 L481.8,607.5 L482.7,606.1 L483.6,604.5 L484.5,602.6 L485.2,600.6 L485.8,598.6 L486.2,596.7 L486.4,594.7 L486.6,592.7 L486.8,590.6 L486.9,588.4 L487.0,585.8 L487.0,582.6 L487.1,579.0 L487.0,574.9 L486.9,570.6 L486.8,566.0 L486.7,561.5 L486.5,556.9 L486.4,552.6 L486.3,548.6 L486.2,545.1 L486.1,542.2 L486.0,539.9 L462.0,540.1 L462.0,542.4 L461.9,545.4 L461.9,549.0 L461.9,552.9 L461.9,557.2 L461.8,561.7 L461.8,566.2 L461.7,570.6 L461.6,574.7 L461.4,578.5 L461.2,581.7 L461.0,584.2 L460.8,586.3 L460.5,588.1 L460.3,589.5 L460.1,590.5 L459.9,591.1 L459.7,591.4 L459.6,591.3 L459.6,591.1 L459.7,590.8 L459.7,590.7 L459.5,590.9 L459.2,591.1 L459.1,591.1 L459.2,590.9 L459.3,590.8 L459.4,590.7 L459.4,590.6 L459.4,590.6 L459.4,590.5 L459.3,590.5 L459.1,590.5 L458.9,590.5 L458.6,590.5 L458.3,590.5 L458.1,590.5 L457.9,590.4 L457.6,590.3 L457.0,590.2 L456.1,589.9 L455.1,589.6 L453.9,589.1 L452.4,588.6 L450.8,588.0 L448.9,587.3 L446.9,586.5 L444.8,585.8 L442.5,585.0 L439.9,584.1 L437.1,583.1 L434.1,582.0 L431.0,580.9 L427.8,579.8 L424.7,578.7 L421.8,577.6 L419.0,576.6 L416.6,575.7 L414.5,574.9 L412.9,574.4Z" fill="#26282b"/>
<path d="M487.0,395.0 L478.0,405.0 L474.0,676.0 L480.0,686.0 L492.0,686.0 L495.0,395.0Z" fill="#2c2f32"/>
<path d="M537,153.5 L696,156.5 Q703,157 704.5,165 L709.5,212 Q710,220.5 702,222.5 L668,226.5 L546,233.5 Q539,233 538,225 L531,164 Q530.5,153.5 537,153.5Z" fill="#3e4244"/>
<path d="M536.5,212 L709,203.5 L709.5,212 Q710,220.5 702,222.5 L668,226.5 L546,233.5 Q539,233 538,225Z" fill="#484c4e"/>
<path d="M538.2,221 Q538.5,228.5 529,228.5 L506,228 L498,238 L546,233.5Z" fill="#44484a"/>
<path d="M531,164 Q530.5,153.5 537,153.5 L540,154 Q535,156 535.5,164 L542.5,226 L538,225Z" fill="#2e3133"/>
<ellipse cx="631.4" cy="182.3" rx="8.6" ry="15.3" fill="#17181a" transform="rotate(-4 631.4 182.3)"/><ellipse cx="629.2" cy="181.3" rx="5" ry="11.5" fill="#b9bdbd" transform="rotate(-4 629.2 181.3)"/>
<path d="M505,229 L668,225 L656,440 L648,596 Q647,602 640,604.5 L604,617 L538.6,656.4 L490,687.5 Q482,692 481,680 L485,440 L493,244 Q494,230 505,229Z" fill="#3a3e40"/>
<path d="M505,229 L668,225 L667.5,234 L498,238 Q500,230 505,229Z" fill="#4e5254"/>
<path d="M544,430 Q544,420 553,417 L590,406 Q601,403 601,413 L599,612 L612,606 L614,405 Q614,395 604,397 L548,412 Q540,415 540,425 L540,650 L544,648Z" fill="#2c2f31"/>
<path d="M601,413 L614,405 L612,606 L599,612Z" fill="#404446"/>
<path d="M563,443 Q566,436 572,437 L574,525 L562,528Z" fill="#dcdcdc"/><path d="M572,437 L576,437 L577,540 L573,527Z" fill="#111"/>
<ellipse cx="517" cy="407" rx="5.5" ry="7" fill="#303436"/>
<ellipse cx="636" cy="369" rx="5.5" ry="7" fill="#303436"/>
<ellipse cx="512" cy="543" rx="5.5" ry="7" fill="#303436"/>
<ellipse cx="631" cy="491" rx="5.5" ry="7" fill="#303436"/>
<defs><linearGradient id="clipg" x1="0" y1="0" x2="0.25" y2="1"><stop offset="0" stop-color="#b6c5d1"/><stop offset="0.5" stop-color="#a9bccb"/><stop offset="0.8" stop-color="#7f9db8"/><stop offset="1" stop-color="#6c93b6"/></linearGradient></defs>
<path d="M546.5,557 Q546.5,554 549,553 L592,535.5 Q596.5,534 597,538 L600,618 L547.5,652Z" fill="url(#clipg)"/>
<path d="M550.0,600.0 L562.0,596.0 L566.0,625.0 L552.0,640.0Z" fill="#4d7ba6" opacity="0.75" filter="url(#bl2)"/>
<ellipse cx="572.3" cy="583.5" rx="6" ry="8" fill="none" stroke="#97a9b8" stroke-width="1.2"/>
<path d="M547.5,651.5 L600.0,618.0 L607.0,626.0 L581.0,646.0 L575.0,664.0 L571.0,666.0Z" fill="#5f95c4"/>
<path d="M547.5,651.5 L581.0,646.0 L575.0,664.0 L571.0,666.0Z" fill="#3f79ae"/>
<path d="M580.0,647.0 L623.4,618.3 L628.0,618.5 L630.5,622.0 L629.6,632.0 L577.3,668.0 L573.0,665.7 L576.0,652.0Z" fill="#b4bcc1"/>
<path d="M580.0,647.0 L623.4,618.3 L628.0,618.5 L630.5,622.0 L583.0,652.0Z" fill="#d8dde0"/>
<path d="M547.5,650.5 L573.0,665.7 L577.3,668.0 L571.0,668.5 L547.0,654.0Z" fill="#5d6d7a"/>
</g>
<path d="M677.5,235.4 L714.0,280.9 L714.0,322.4 L677.5,277.9 L640.0,322.4 L640.0,280.9Z" fill="#86c873"/>
<path d="M677.5,325.2 L714.0,370.7 L714.0,412.2 L677.5,367.7 L640.0,412.2 L640.0,370.7Z" fill="#86c873"/>
<path d="M640.0,478.0 L677.5,521.5 L714.0,478.0 L714.0,518.5 L677.5,563.0 L640.0,518.5Z" fill="#86c873"/>
<path d="M640.0,564.0 L677.5,607.5 L714.0,564.0 L714.0,604.5 L677.5,649.0 L640.0,604.5Z" fill="#86c873"/>
<g id="hookB">
<defs><linearGradient id="plg" x1="0" y1="0" x2="0" y2="1"><stop offset="0" stop-color="#34373a"/><stop offset="0.15" stop-color="#3a3d40"/><stop offset="0.28" stop-color="#33363a"/><stop offset="0.45" stop-color="#2a2c2f"/><stop offset="1" stop-color="#222426"/></linearGradient><filter id="bl3" x="-10%" y="-10%" width="120%" height="120%"><feGaussianBlur stdDeviation="3.5"/></filter><filter id="bl2" x="-50%" y="-50%" width="200%" height="200%"><feGaussianBlur stdDeviation="4"/></filter><filter id="bl" x="-20%" y="-20%" width="140%" height="140%"><feGaussianBlur stdDeviation="7"/></filter><clipPath id="plc"><path d="M1013,530 L1346,530 L1347.5,612 L1342,673 L1333,790 L1324.8,867 L1317.4,960 L1303,1124 L1243,1094 L1150,1030 L1013,935Z"/></clipPath></defs>
<path d="M1013,530 L1395,530 L1396,550 Q1396,566 1387,576 Q1375,587 1359,594.5 Q1348.5,600 1347.5,612 L1345.5,636 L1342,673 L1337.8,728.5 L1333,790 L1324.8,867 L1320.8,915 L1317.4,960 L1313.3,1008 L1308,1062 L1304.3,1116 L1302,1127 L1292,1132.5 L1275.5,1126.6 L1254,1112 L1235,1101 L1150,1030 L1013,935Z" fill="url(#plg)"/>
<path d="M1122,530 L1395,530 L1396,550 Q1396,566 1387,576 Q1375,587 1359,594.5 Q1350,599 1348,604 L1342,597Z" fill="#1f2124"/>
<path d="M1258.0,530.0 L1395.0,530.0 L1396.0,551.0 L1392.0,566.0Z" fill="#17181a"/>
<path d="M1250,536 L1389,568" stroke="#34373a" stroke-width="4.5" fill="none"/>
<path d="M1118,536.5 L1338,594.5 Q1346,597 1347.5,606" stroke="#45494c" stroke-width="3.5" fill="none"/>
<g clip-path="url(#plc)"><path d="M1032.9,707.6 L1034.6,704.9 L1036.3,701.4 L1037.8,698.1 L1039.1,695.0 L1040.5,692.1 L1041.9,689.5 L1043.3,687.4 L1044.6,686.1 L1045.5,685.5 L1045.9,685.5 L1045.8,685.8 L1046.2,686.0 L1048.5,686.3 L1052.6,687.0 L1057.9,688.3 L1064.0,690.1 L1070.7,692.3 L1077.8,694.9 L1085.3,697.7 L1093.0,700.7 L1100.7,703.8 L1108.3,706.9 L1115.8,709.9 L1122.9,712.7 L1129.6,715.4 L1136.4,718.1 L1143.3,721.0 L1150.2,724.0 L1157.1,727.0 L1164.0,730.1 L1170.7,733.1 L1177.2,736.2 L1183.5,739.2 L1189.6,742.1 L1195.3,745.0 L1200.7,747.7 L1206.0,750.4 L1211.0,752.9 L1215.7,755.2 L1220.1,757.4 L1224.1,759.5 L1227.7,761.4 L1231.0,763.3 L1234.0,765.2 L1236.8,767.1 L1239.3,769.0 L1241.7,771.0 L1244.1,773.5 L1246.8,776.3 L1249.4,779.0 L1251.6,781.4 L1253.5,783.6 L1255.3,785.8 L1256.9,788.2 L1258.5,791.0 L1260.0,794.3 L1261.5,798.4 L1262.8,803.3 L1264.0,809.2 L1265.0,816.0 L1265.8,824.3 L1266.3,834.4 L1266.6,846.0 L1266.6,858.6 L1266.4,871.8 L1266.1,885.3 L1265.7,898.6 L1265.2,911.4 L1264.8,923.3 L1264.4,933.8 L1264.1,942.8 L1264.0,949.6 L1264.6,953.5 L1266.7,956.8 L1269.8,959.1 L1273.6,960.0 L1277.5,959.4 L1280.8,957.3 L1283.1,954.2 L1284.0,950.4 L1284.4,943.7 L1285.0,934.9 L1285.8,924.4 L1286.6,912.5 L1287.5,899.7 L1288.4,886.3 L1289.3,872.7 L1290.0,859.3 L1290.6,846.3 L1291.0,834.3 L1291.2,823.4 L1291.0,814.0 L1290.5,806.1 L1290.0,799.0 L1289.2,792.6 L1288.3,786.7 L1287.1,781.1 L1285.6,775.9 L1283.8,771.1 L1281.7,766.5 L1279.5,762.3 L1277.1,758.3 L1274.6,754.5 L1271.9,750.5 L1268.5,746.2 L1264.7,742.0 L1260.7,738.2 L1256.5,734.7 L1252.2,731.4 L1247.8,728.4 L1243.3,725.6 L1238.8,723.0 L1234.1,720.4 L1229.3,717.7 L1224.4,715.1 L1219.3,712.3 L1213.7,709.3 L1207.6,706.1 L1201.2,702.9 L1194.6,699.7 L1187.7,696.4 L1180.7,693.2 L1173.5,690.0 L1166.2,686.8 L1158.9,683.8 L1151.5,680.8 L1144.3,678.0 L1137.1,675.3 L1130.0,672.7 L1122.5,669.9 L1114.7,667.1 L1106.7,664.2 L1098.5,661.3 L1090.3,658.6 L1082.2,656.1 L1074.2,653.9 L1066.4,652.1 L1058.9,650.7 L1051.5,650.0 L1043.8,650.0 L1035.7,651.7 L1028.3,655.2 L1022.4,659.9 L1018.0,665.0 L1014.8,670.2 L1012.4,675.3 L1010.7,679.9 L1009.4,684.1 L1008.4,687.7 L1007.7,690.3 L1007.4,691.6 L1007.1,692.4 L1005.1,697.9 L1005.5,703.8 L1008.0,709.0 L1012.4,712.9 L1017.9,714.9 L1023.8,714.5 L1029.0,712.0Z" fill="#101113" filter="url(#bl)" opacity="0.95"/></g>
<path d="M928.8,1018.8 L930.7,1017.9 L932.8,1016.7 L935.2,1015.4 L937.8,1014.0 L940.6,1012.4 L943.6,1010.8 L946.8,1009.1 L950.1,1007.4 L953.6,1005.6 L957.2,1003.8 L960.9,1002.1 L964.7,1000.4 L968.8,998.6 L973.4,996.6 L978.4,994.6 L983.7,992.4 L989.1,990.3 L994.7,988.0 L1000.3,985.8 L1005.9,983.6 L1011.4,981.5 L1016.6,979.4 L1021.6,977.5 L1026.2,975.6 L1030.5,973.8 L1034.8,972.1 L1038.9,970.3 L1043.0,968.7 L1046.9,967.0 L1050.7,965.5 L1054.2,964.0 L1057.5,962.6 L1060.5,961.4 L1063.1,960.3 L1065.4,959.3 L1067.3,958.5 L1052.7,923.5 L1050.8,924.3 L1048.5,925.2 L1045.8,926.3 L1042.8,927.6 L1039.6,928.9 L1036.1,930.4 L1032.4,931.9 L1028.5,933.6 L1024.4,935.2 L1020.3,936.9 L1016.1,938.7 L1011.8,940.4 L1007.4,942.2 L1002.6,944.1 L997.4,946.2 L992.0,948.3 L986.4,950.5 L980.8,952.7 L975.1,954.9 L969.5,957.2 L964.1,959.4 L958.8,961.6 L953.9,963.6 L949.3,965.6 L944.9,967.6 L940.7,969.6 L936.6,971.6 L932.8,973.6 L929.1,975.5 L925.7,977.3 L922.5,979.0 L919.5,980.6 L916.9,982.1 L914.6,983.3 L912.7,984.3 L911.2,985.2Z" fill="#1f2023"/>
<defs><clipPath id="fc3"><path d="M35.7,1369.3 L36.5,1369.4 L37.5,1369.6 L38.8,1369.7 L40.3,1369.9 L42.0,1370.1 L43.8,1370.2 L45.8,1370.3 L47.8,1370.4 L49.9,1370.5 L52.1,1370.5 L54.4,1370.4 L56.4,1370.3 L58.0,1370.3 L59.3,1370.4 L60.8,1370.4 L62.6,1370.3 L64.5,1370.2 L66.7,1369.9 L69.1,1369.5 L71.7,1369.0 L74.5,1368.4 L77.5,1367.6 L80.6,1366.6 L83.7,1365.7 L86.7,1364.7 L89.9,1363.7 L93.5,1362.5 L97.6,1361.2 L101.9,1359.6 L106.6,1357.9 L111.5,1355.9 L116.6,1353.7 L121.8,1351.2 L127.2,1348.4 L132.6,1345.3 L138.1,1341.8 L143.4,1338.1 L148.5,1334.1 L153.4,1330.1 L158.1,1326.0 L162.6,1321.8 L167.0,1317.7 L171.3,1313.6 L175.5,1309.5 L179.5,1305.6 L183.4,1301.9 L187.2,1298.4 L191.0,1294.9 L195.1,1291.3 L199.3,1287.4 L203.4,1283.7 L207.4,1279.9 L211.4,1276.2 L215.4,1272.6 L219.2,1269.1 L223.0,1265.7 L226.8,1262.5 L230.5,1259.4 L234.1,1256.4 L237.7,1253.7 L241.2,1251.0 L244.9,1248.4 L248.6,1245.9 L252.3,1243.4 L256.1,1241.0 L259.9,1238.6 L263.8,1236.3 L267.8,1233.9 L271.8,1231.6 L275.8,1229.2 L279.9,1226.8 L284.0,1224.4 L288.0,1222.1 L292.0,1219.8 L295.9,1217.5 L299.9,1215.3 L303.8,1213.1 L307.7,1210.9 L311.6,1208.8 L315.5,1206.8 L319.4,1204.7 L323.2,1202.7 L327.1,1200.8 L330.9,1198.9 L334.8,1197.0 L338.6,1195.2 L342.5,1193.3 L346.3,1191.6 L350.2,1189.8 L354.0,1188.1 L357.9,1186.4 L361.7,1184.8 L365.6,1183.2 L369.4,1181.7 L373.3,1180.2 L377.1,1178.8 L380.9,1177.5 L384.5,1176.2 L388.2,1175.1 L391.8,1173.9 L395.5,1172.9 L399.2,1171.8 L403.0,1170.8 L407.0,1169.7 L411.1,1168.6 L415.4,1167.5 L419.9,1166.3 L424.7,1165.0 L429.7,1163.6 L434.7,1162.2 L439.8,1160.7 L444.9,1159.3 L450.1,1157.8 L455.2,1156.4 L460.4,1155.0 L465.6,1153.7 L470.9,1152.4 L476.2,1151.2 L481.6,1150.1 L487.0,1149.1 L492.6,1148.2 L498.7,1147.3 L505.0,1146.5 L511.6,1145.7 L518.2,1144.9 L525.0,1144.2 L531.8,1143.6 L538.6,1143.0 L545.3,1142.4 L551.8,1141.9 L558.1,1141.4 L564.1,1140.9 L569.6,1140.5 L574.9,1140.2 L580.0,1140.0 L585.1,1139.7 L590.0,1139.6 L595.0,1139.4 L599.9,1139.3 L604.9,1139.2 L610.0,1139.0 L615.1,1138.9 L620.4,1138.7 L625.6,1138.5 L630.8,1138.3 L636.0,1138.1 L641.4,1137.9 L646.9,1137.7 L652.4,1137.5 L657.9,1137.3 L663.5,1137.1 L669.1,1136.8 L674.6,1136.5 L680.0,1136.0 L685.4,1135.5 L690.6,1134.9 L695.3,1134.2 L699.6,1133.6 L703.8,1132.8 L707.9,1132.1 L711.9,1131.2 L715.8,1130.3 L719.8,1129.2 L723.7,1128.0 L727.7,1126.8 L731.8,1125.4 L736.0,1123.9 L740.5,1122.2 L745.3,1120.3 L750.4,1118.3 L755.5,1116.1 L760.7,1113.7 L765.9,1111.3 L771.3,1108.8 L776.6,1106.3 L781.9,1103.7 L787.3,1101.0 L792.6,1098.4 L797.8,1095.7 L803.1,1093.1 L808.4,1090.4 L813.8,1087.5 L819.2,1084.7 L824.5,1081.8 L829.8,1078.9 L835.0,1076.0 L840.2,1073.1 L845.4,1070.3 L850.5,1067.5 L855.5,1064.8 L860.4,1062.1 L865.3,1059.6 L870.3,1057.0 L875.7,1054.4 L881.2,1051.6 L886.9,1048.9 L892.5,1046.2 L898.1,1043.5 L903.6,1040.9 L908.8,1038.4 L913.8,1036.0 L918.4,1033.8 L922.6,1031.8 L926.3,1030.0 L929.4,1028.4 L932.1,1027.1 L934.3,1025.9 L936.3,1024.9 L937.9,1024.1 L939.2,1023.3 L940.4,1022.7 L941.3,1022.2 L942.1,1021.7 L942.7,1021.4 L943.1,1021.1 L943.7,1020.8 L920.3,974.4 L919.5,974.7 L918.7,975.2 L917.9,975.5 L917.2,975.9 L916.4,976.2 L915.5,976.6 L914.4,977.2 L913.0,977.8 L911.3,978.6 L909.2,979.5 L906.7,980.7 L903.7,982.0 L900.2,983.6 L896.1,985.4 L891.5,987.4 L886.5,989.6 L881.2,992.0 L875.5,994.4 L869.8,997.0 L863.9,999.6 L857.9,1002.3 L852.1,1005.0 L846.3,1007.7 L840.7,1010.4 L835.2,1013.1 L829.8,1015.9 L824.3,1018.7 L819.0,1021.6 L813.7,1024.4 L808.4,1027.3 L803.2,1030.1 L798.1,1032.8 L793.1,1035.5 L788.1,1038.1 L783.2,1040.5 L778.3,1042.9 L773.3,1045.3 L768.1,1047.7 L762.9,1050.1 L757.8,1052.4 L752.7,1054.7 L747.6,1057.0 L742.6,1059.1 L737.8,1061.1 L733.2,1063.0 L728.7,1064.8 L724.5,1066.3 L720.5,1067.8 L716.7,1069.1 L713.2,1070.2 L710.1,1071.2 L707.2,1072.0 L704.5,1072.7 L702.0,1073.4 L699.4,1073.9 L696.7,1074.4 L693.8,1074.9 L690.7,1075.4 L687.2,1075.9 L683.4,1076.3 L679.5,1076.7 L675.4,1077.0 L670.9,1077.3 L666.1,1077.5 L661.2,1077.7 L656.0,1077.9 L650.8,1078.0 L645.4,1078.1 L639.9,1078.2 L634.4,1078.3 L628.9,1078.4 L623.6,1078.5 L618.5,1078.7 L613.7,1078.7 L608.8,1078.8 L603.9,1078.8 L598.9,1078.9 L593.8,1078.9 L588.6,1079.0 L583.3,1079.1 L577.7,1079.2 L572.0,1079.4 L566.0,1079.7 L559.9,1080.1 L553.7,1080.5 L547.2,1080.9 L540.5,1081.4 L533.6,1081.9 L526.5,1082.5 L519.3,1083.1 L512.1,1083.7 L504.9,1084.4 L497.7,1085.2 L490.7,1086.0 L483.8,1086.9 L477.0,1087.9 L470.4,1089.0 L464.0,1090.1 L457.7,1091.4 L451.5,1092.7 L445.5,1094.0 L439.7,1095.3 L434.1,1096.7 L428.6,1098.0 L423.4,1099.4 L418.3,1100.6 L413.4,1101.9 L408.7,1103.0 L404.1,1104.1 L399.5,1105.2 L395.1,1106.3 L390.8,1107.4 L386.5,1108.5 L382.3,1109.6 L378.1,1110.8 L373.8,1111.9 L369.5,1113.2 L365.2,1114.5 L360.8,1115.8 L356.3,1117.2 L351.8,1118.7 L347.3,1120.2 L342.8,1121.7 L338.3,1123.2 L333.8,1124.8 L329.4,1126.4 L324.9,1128.1 L320.4,1129.8 L315.9,1131.5 L311.4,1133.3 L307.0,1135.2 L302.5,1137.1 L298.0,1139.1 L293.5,1141.1 L289.0,1143.2 L284.6,1145.3 L280.1,1147.5 L275.7,1149.7 L271.3,1151.9 L266.9,1154.2 L262.5,1156.5 L258.1,1158.8 L253.7,1161.2 L249.4,1163.6 L245.2,1165.9 L240.9,1168.3 L236.6,1170.7 L232.3,1173.2 L227.9,1175.7 L223.5,1178.4 L219.0,1181.1 L214.4,1183.9 L209.8,1186.8 L205.2,1189.9 L200.5,1193.0 L195.7,1196.3 L191.0,1199.8 L186.3,1203.3 L181.6,1206.9 L177.0,1210.5 L172.5,1214.1 L168.0,1217.7 L163.6,1221.4 L159.3,1225.0 L155.0,1228.5 L150.8,1232.1 L146.7,1235.5 L142.4,1239.1 L137.8,1243.0 L133.2,1247.0 L128.7,1251.1 L124.3,1255.0 L120.1,1258.9 L116.0,1262.7 L112.0,1266.3 L108.2,1269.6 L104.6,1272.8 L101.2,1275.6 L98.1,1278.1 L95.3,1280.2 L92.6,1282.1 L89.7,1284.1 L86.6,1286.0 L83.4,1287.9 L80.0,1289.8 L76.6,1291.7 L73.2,1293.5 L69.7,1295.3 L66.2,1297.1 L62.8,1298.9 L59.4,1300.7 L56.3,1302.3 L53.9,1303.7 L52.2,1304.8 L50.8,1305.7 L49.6,1306.5 L48.6,1307.2 L47.7,1307.9 L46.7,1308.6 L45.7,1309.3 L44.5,1310.0 L43.0,1310.8 L41.3,1311.8 L39.6,1312.7 L38.2,1313.6 L37.0,1314.5 L35.7,1315.4 L34.3,1316.3 L32.9,1317.3 L31.4,1318.2 L30.1,1319.1 L28.8,1320.0 L27.5,1320.8 L26.3,1321.5 L25.2,1322.2 L24.3,1322.7 L15.8,1326.6 L9.5,1333.5 L6.3,1342.3 L6.7,1351.7 L10.6,1360.2 L17.5,1366.5 L26.3,1369.7Z"/></clipPath></defs>
<path d="M35.7,1369.3 L36.5,1369.4 L37.5,1369.6 L38.8,1369.7 L40.3,1369.9 L42.0,1370.1 L43.8,1370.2 L45.8,1370.3 L47.8,1370.4 L49.9,1370.5 L52.1,1370.5 L54.4,1370.4 L56.4,1370.3 L58.0,1370.3 L59.3,1370.4 L60.8,1370.4 L62.6,1370.3 L64.5,1370.2 L66.7,1369.9 L69.1,1369.5 L71.7,1369.0 L74.5,1368.4 L77.5,1367.6 L80.6,1366.6 L83.7,1365.7 L86.7,1364.7 L89.9,1363.7 L93.5,1362.5 L97.6,1361.2 L101.9,1359.6 L106.6,1357.9 L111.5,1355.9 L116.6,1353.7 L121.8,1351.2 L127.2,1348.4 L132.6,1345.3 L138.1,1341.8 L143.4,1338.1 L148.5,1334.1 L153.4,1330.1 L158.1,1326.0 L162.6,1321.8 L167.0,1317.7 L171.3,1313.6 L175.5,1309.5 L179.5,1305.6 L183.4,1301.9 L187.2,1298.4 L191.0,1294.9 L195.1,1291.3 L199.3,1287.4 L203.4,1283.7 L207.4,1279.9 L211.4,1276.2 L215.4,1272.6 L219.2,1269.1 L223.0,1265.7 L226.8,1262.5 L230.5,1259.4 L234.1,1256.4 L237.7,1253.7 L241.2,1251.0 L244.9,1248.4 L248.6,1245.9 L252.3,1243.4 L256.1,1241.0 L259.9,1238.6 L263.8,1236.3 L267.8,1233.9 L271.8,1231.6 L275.8,1229.2 L279.9,1226.8 L284.0,1224.4 L288.0,1222.1 L292.0,1219.8 L295.9,1217.5 L299.9,1215.3 L303.8,1213.1 L307.7,1210.9 L311.6,1208.8 L315.5,1206.8 L319.4,1204.7 L323.2,1202.7 L327.1,1200.8 L330.9,1198.9 L334.8,1197.0 L338.6,1195.2 L342.5,1193.3 L346.3,1191.6 L350.2,1189.8 L354.0,1188.1 L357.9,1186.4 L361.7,1184.8 L365.6,1183.2 L369.4,1181.7 L373.3,1180.2 L377.1,1178.8 L380.9,1177.5 L384.5,1176.2 L388.2,1175.1 L391.8,1173.9 L395.5,1172.9 L399.2,1171.8 L403.0,1170.8 L407.0,1169.7 L411.1,1168.6 L415.4,1167.5 L419.9,1166.3 L424.7,1165.0 L429.7,1163.6 L434.7,1162.2 L439.8,1160.7 L444.9,1159.3 L450.1,1157.8 L455.2,1156.4 L460.4,1155.0 L465.6,1153.7 L470.9,1152.4 L476.2,1151.2 L481.6,1150.1 L487.0,1149.1 L492.6,1148.2 L498.7,1147.3 L505.0,1146.5 L511.6,1145.7 L518.2,1144.9 L525.0,1144.2 L531.8,1143.6 L538.6,1143.0 L545.3,1142.4 L551.8,1141.9 L558.1,1141.4 L564.1,1140.9 L569.6,1140.5 L574.9,1140.2 L580.0,1140.0 L585.1,1139.7 L590.0,1139.6 L595.0,1139.4 L599.9,1139.3 L604.9,1139.2 L610.0,1139.0 L615.1,1138.9 L620.4,1138.7 L625.6,1138.5 L630.8,1138.3 L636.0,1138.1 L641.4,1137.9 L646.9,1137.7 L652.4,1137.5 L657.9,1137.3 L663.5,1137.1 L669.1,1136.8 L674.6,1136.5 L680.0,1136.0 L685.4,1135.5 L690.6,1134.9 L695.3,1134.2 L699.6,1133.6 L703.8,1132.8 L707.9,1132.1 L711.9,1131.2 L715.8,1130.3 L719.8,1129.2 L723.7,1128.0 L727.7,1126.8 L731.8,1125.4 L736.0,1123.9 L740.5,1122.2 L745.3,1120.3 L750.4,1118.3 L755.5,1116.1 L760.7,1113.7 L765.9,1111.3 L771.3,1108.8 L776.6,1106.3 L781.9,1103.7 L787.3,1101.0 L792.6,1098.4 L797.8,1095.7 L803.1,1093.1 L808.4,1090.4 L813.8,1087.5 L819.2,1084.7 L824.5,1081.8 L829.8,1078.9 L835.0,1076.0 L840.2,1073.1 L845.4,1070.3 L850.5,1067.5 L855.5,1064.8 L860.4,1062.1 L865.3,1059.6 L870.3,1057.0 L875.7,1054.4 L881.2,1051.6 L886.9,1048.9 L892.5,1046.2 L898.1,1043.5 L903.6,1040.9 L908.8,1038.4 L913.8,1036.0 L918.4,1033.8 L922.6,1031.8 L926.3,1030.0 L929.4,1028.4 L932.1,1027.1 L934.3,1025.9 L936.3,1024.9 L937.9,1024.1 L939.2,1023.3 L940.4,1022.7 L941.3,1022.2 L942.1,1021.7 L942.7,1021.4 L943.1,1021.1 L943.7,1020.8 L920.3,974.4 L919.5,974.7 L918.7,975.2 L917.9,975.5 L917.2,975.9 L916.4,976.2 L915.5,976.6 L914.4,977.2 L913.0,977.8 L911.3,978.6 L909.2,979.5 L906.7,980.7 L903.7,982.0 L900.2,983.6 L896.1,985.4 L891.5,987.4 L886.5,989.6 L881.2,992.0 L875.5,994.4 L869.8,997.0 L863.9,999.6 L857.9,1002.3 L852.1,1005.0 L846.3,1007.7 L840.7,1010.4 L835.2,1013.1 L829.8,1015.9 L824.3,1018.7 L819.0,1021.6 L813.7,1024.4 L808.4,1027.3 L803.2,1030.1 L798.1,1032.8 L793.1,1035.5 L788.1,1038.1 L783.2,1040.5 L778.3,1042.9 L773.3,1045.3 L768.1,1047.7 L762.9,1050.1 L757.8,1052.4 L752.7,1054.7 L747.6,1057.0 L742.6,1059.1 L737.8,1061.1 L733.2,1063.0 L728.7,1064.8 L724.5,1066.3 L720.5,1067.8 L716.7,1069.1 L713.2,1070.2 L710.1,1071.2 L707.2,1072.0 L704.5,1072.7 L702.0,1073.4 L699.4,1073.9 L696.7,1074.4 L693.8,1074.9 L690.7,1075.4 L687.2,1075.9 L683.4,1076.3 L679.5,1076.7 L675.4,1077.0 L670.9,1077.3 L666.1,1077.5 L661.2,1077.7 L656.0,1077.9 L650.8,1078.0 L645.4,1078.1 L639.9,1078.2 L634.4,1078.3 L628.9,1078.4 L623.6,1078.5 L618.5,1078.7 L613.7,1078.7 L608.8,1078.8 L603.9,1078.8 L598.9,1078.9 L593.8,1078.9 L588.6,1079.0 L583.3,1079.1 L577.7,1079.2 L572.0,1079.4 L566.0,1079.7 L559.9,1080.1 L553.7,1080.5 L547.2,1080.9 L540.5,1081.4 L533.6,1081.9 L526.5,1082.5 L519.3,1083.1 L512.1,1083.7 L504.9,1084.4 L497.7,1085.2 L490.7,1086.0 L483.8,1086.9 L477.0,1087.9 L470.4,1089.0 L464.0,1090.1 L457.7,1091.4 L451.5,1092.7 L445.5,1094.0 L439.7,1095.3 L434.1,1096.7 L428.6,1098.0 L423.4,1099.4 L418.3,1100.6 L413.4,1101.9 L408.7,1103.0 L404.1,1104.1 L399.5,1105.2 L395.1,1106.3 L390.8,1107.4 L386.5,1108.5 L382.3,1109.6 L378.1,1110.8 L373.8,1111.9 L369.5,1113.2 L365.2,1114.5 L360.8,1115.8 L356.3,1117.2 L351.8,1118.7 L347.3,1120.2 L342.8,1121.7 L338.3,1123.2 L333.8,1124.8 L329.4,1126.4 L324.9,1128.1 L320.4,1129.8 L315.9,1131.5 L311.4,1133.3 L307.0,1135.2 L302.5,1137.1 L298.0,1139.1 L293.5,1141.1 L289.0,1143.2 L284.6,1145.3 L280.1,1147.5 L275.7,1149.7 L271.3,1151.9 L266.9,1154.2 L262.5,1156.5 L258.1,1158.8 L253.7,1161.2 L249.4,1163.6 L245.2,1165.9 L240.9,1168.3 L236.6,1170.7 L232.3,1173.2 L227.9,1175.7 L223.5,1178.4 L219.0,1181.1 L214.4,1183.9 L209.8,1186.8 L205.2,1189.9 L200.5,1193.0 L195.7,1196.3 L191.0,1199.8 L186.3,1203.3 L181.6,1206.9 L177.0,1210.5 L172.5,1214.1 L168.0,1217.7 L163.6,1221.4 L159.3,1225.0 L155.0,1228.5 L150.8,1232.1 L146.7,1235.5 L142.4,1239.1 L137.8,1243.0 L133.2,1247.0 L128.7,1251.1 L124.3,1255.0 L120.1,1258.9 L116.0,1262.7 L112.0,1266.3 L108.2,1269.6 L104.6,1272.8 L101.2,1275.6 L98.1,1278.1 L95.3,1280.2 L92.6,1282.1 L89.7,1284.1 L86.6,1286.0 L83.4,1287.9 L80.0,1289.8 L76.6,1291.7 L73.2,1293.5 L69.7,1295.3 L66.2,1297.1 L62.8,1298.9 L59.4,1300.7 L56.3,1302.3 L53.9,1303.7 L52.2,1304.8 L50.8,1305.7 L49.6,1306.5 L48.6,1307.2 L47.7,1307.9 L46.7,1308.6 L45.7,1309.3 L44.5,1310.0 L43.0,1310.8 L41.3,1311.8 L39.6,1312.7 L38.2,1313.6 L37.0,1314.5 L35.7,1315.4 L34.3,1316.3 L32.9,1317.3 L31.4,1318.2 L30.1,1319.1 L28.8,1320.0 L27.5,1320.8 L26.3,1321.5 L25.2,1322.2 L24.3,1322.7 L15.8,1326.6 L9.5,1333.5 L6.3,1342.3 L6.7,1351.7 L10.6,1360.2 L17.5,1366.5 L26.3,1369.7Z" fill="#2f3237"/>
<g clip-path="url(#fc3)"><path d="M34.1,1373.8 L35.5,1374.0 L37.5,1374.4 L40.0,1374.8 L42.7,1375.1 L45.7,1375.4 L49.0,1375.6 L52.3,1375.8 L55.3,1375.9 L57.8,1376.1 L60.4,1376.2 L63.6,1376.1 L67.3,1375.8 L71.3,1375.1 L75.4,1374.3 L80.0,1373.2 L84.8,1371.9 L90.0,1370.4 L95.8,1368.7 L102.3,1366.6 L109.2,1363.9 L116.6,1360.7 L124.7,1356.9 L133.3,1352.6 L141.7,1347.5 L149.8,1341.6 L157.5,1335.3 L164.7,1328.9 L171.5,1322.8 L177.9,1316.8 L184.1,1310.9 L190.0,1305.1 L195.8,1299.5 L201.8,1293.9 L207.9,1288.3 L213.8,1282.8 L219.7,1277.5 L225.4,1272.4 L230.9,1267.5 L236.3,1262.9 L241.6,1258.7 L246.9,1254.8 L252.2,1251.1 L257.7,1247.5 L263.4,1244.0 L269.1,1240.4 L275.1,1236.9 L281.1,1233.4 L287.1,1229.9 L293.1,1226.4 L299.0,1223.0 L304.9,1219.6 L310.7,1216.4 L316.5,1213.2 L322.3,1210.2 L328.0,1207.2 L333.7,1204.3 L339.4,1201.5 L345.2,1198.8 L350.8,1196.1 L356.5,1193.5 L362.2,1191.0 L368.0,1188.6 L373.6,1186.4 L379.2,1184.3 L384.5,1182.4 L389.8,1180.7 L395.2,1179.0 L400.9,1177.4 L406.8,1175.7 L412.9,1174.1 L419.4,1172.4 L426.3,1170.5 L433.6,1168.4 L441.2,1166.2 L448.9,1164.0 L456.6,1161.9 L464.3,1159.9 L472.0,1158.0 L479.8,1156.2 L488.0,1154.6 L496.8,1153.2 L506.2,1151.9 L515.9,1150.8 L525.6,1149.7 L535.4,1148.8 L545.4,1147.9 L555.2,1147.1 L564.4,1146.4 L572.6,1145.9 L580.3,1145.5 L587.7,1145.2 L595.3,1144.9 L602.9,1144.6 L610.4,1144.4 L617.9,1144.1 L625.7,1143.9 L633.7,1143.6 L641.8,1143.4 L650.1,1143.1 L658.3,1142.7 L666.6,1142.2 L675.0,1141.6 L683.3,1141.0 L691.1,1140.2 L698.1,1139.2 L704.6,1138.1 L710.8,1136.9 L717.1,1135.4 L723.4,1133.6 L729.5,1131.7 L735.8,1129.6 L742.5,1127.0 L749.8,1124.1 L757.6,1120.7 L765.5,1117.2 L773.4,1113.5 L781.4,1109.7 L789.4,1105.7 L797.5,1101.7 L805.5,1097.5 L813.6,1093.3 L821.6,1089.0 L829.6,1084.6 L837.4,1080.4 L845.1,1076.2 L852.5,1072.1 L860.0,1068.0 L867.6,1064.0 L875.7,1059.9 L884.0,1055.8 L892.4,1051.7 L900.3,1047.8 L908.0,1044.1 L915.5,1040.5 L922.5,1037.1 L928.4,1034.2 L933.0,1032.0 L936.5,1030.2 L939.2,1028.7 L941.5,1027.5 L943.4,1026.4 L944.8,1025.6 L945.7,1025.1 L946.3,1024.7 L946.5,1024.6 L937.9,1009.2 L937.7,1009.3 L937.6,1009.3 L935.0,1011.6 L933.4,1014.6 L933.1,1018.1 L934.2,1021.4 L936.4,1024.0 L939.5,1025.6 L942.9,1025.9 L946.2,1024.8 L946.3,1024.7 L946.5,1024.6 L937.9,1009.2 L937.5,1009.4 L936.8,1009.8 L936.0,1010.2 L934.9,1010.8 L933.2,1011.7 L930.9,1012.9 L928.3,1014.2 L924.9,1015.9 L920.5,1018.0 L914.7,1020.8 L907.8,1024.0 L900.1,1027.6 L892.3,1031.3 L884.4,1035.1 L875.9,1039.1 L867.4,1043.2 L859.1,1047.3 L851.2,1051.5 L843.5,1055.6 L836.0,1059.7 L828.4,1063.8 L820.6,1068.0 L812.6,1072.3 L804.7,1076.5 L796.8,1080.6 L788.9,1084.6 L780.9,1088.5 L773.0,1092.3 L765.3,1095.9 L757.5,1099.4 L749.8,1102.8 L742.3,1105.9 L735.4,1108.7 L729.1,1111.0 L723.4,1112.9 L717.9,1114.6 L712.3,1116.1 L706.6,1117.4 L701.0,1118.5 L695.2,1119.4 L688.8,1120.2 L681.5,1121.0 L673.7,1121.5 L665.5,1122.0 L657.3,1122.5 L649.3,1122.8 L641.2,1123.1 L633.1,1123.3 L625.1,1123.5 L617.4,1123.7 L609.8,1123.9 L602.2,1124.1 L594.5,1124.3 L586.9,1124.6 L579.4,1124.9 L571.5,1125.2 L563.0,1125.7 L553.7,1126.4 L543.7,1127.1 L533.5,1128.0 L523.5,1129.0 L513.6,1130.0 L503.7,1131.1 L493.8,1132.4 L484.4,1133.8 L475.5,1135.5 L467.2,1137.3 L459.2,1139.2 L451.3,1141.2 L443.3,1143.2 L435.3,1145.4 L427.7,1147.6 L420.6,1149.5 L413.9,1151.3 L407.4,1152.9 L401.1,1154.6 L394.9,1156.3 L388.9,1158.0 L383.3,1159.7 L377.6,1161.5 L371.7,1163.5 L365.7,1165.6 L359.7,1167.9 L353.6,1170.3 L347.6,1172.8 L341.6,1175.3 L335.6,1178.0 L329.6,1180.7 L323.6,1183.6 L317.6,1186.5 L311.6,1189.5 L305.6,1192.5 L299.5,1195.7 L293.5,1199.0 L287.4,1202.4 L281.3,1205.8 L275.3,1209.3 L269.2,1212.7 L263.0,1216.3 L256.8,1219.9 L250.7,1223.6 L244.8,1227.3 L239.0,1231.1 L233.0,1235.1 L227.0,1239.4 L221.0,1244.1 L215.1,1249.0 L209.3,1253.9 L203.4,1259.0 L197.3,1264.3 L191.1,1269.8 L184.9,1275.5 L178.6,1281.1 L172.5,1286.9 L166.5,1292.6 L160.6,1298.2 L154.3,1303.9 L147.7,1309.8 L140.8,1315.9 L134.1,1321.5 L127.6,1326.3 L120.8,1330.5 L113.5,1334.4 L106.2,1338.0 L99.4,1341.2 L93.4,1343.8 L88.0,1345.9 L82.8,1347.7 L77.9,1349.5 L73.5,1351.0 L69.6,1352.2 L66.2,1353.3 L63.3,1354.1 L61.0,1354.6 L59.3,1355.0 L57.1,1355.2 L54.5,1355.5 L51.5,1355.9 L48.5,1356.3 L45.5,1356.7 L42.9,1357.0 L40.7,1357.2 L38.5,1357.3 L36.6,1357.4 L35.2,1357.5 L32.1,1357.9 L29.3,1359.5 L27.4,1362.0 L26.5,1365.0 L26.9,1368.2 L28.5,1371.0 L31.0,1372.9Z" fill="#25282c" filter="url(#bl3)" opacity="0.9"/><path d="M29.7,1338.5 L31.0,1338.1 L32.9,1337.4 L35.1,1336.7 L37.3,1335.9 L39.7,1335.0 L42.1,1334.1 L44.6,1333.2 L46.9,1332.3 L49.0,1331.6 L51.1,1330.9 L53.3,1330.0 L55.7,1329.0 L58.2,1328.0 L60.6,1326.9 L63.2,1325.7 L66.4,1324.3 L70.8,1322.3 L76.1,1320.0 L81.9,1317.4 L87.6,1314.6 L93.0,1311.9 L98.6,1308.9 L104.4,1305.6 L110.4,1301.6 L116.4,1297.1 L122.1,1292.3 L127.8,1287.3 L133.7,1282.1 L140.0,1276.4 L146.5,1270.4 L153.0,1264.4 L159.4,1258.7 L165.6,1253.1 L171.8,1247.7 L178.1,1242.4 L184.4,1237.1 L190.9,1231.7 L197.4,1226.4 L203.9,1221.3 L210.3,1216.5 L216.8,1211.9 L223.3,1207.6 L229.8,1203.5 L236.2,1199.5 L242.6,1195.6 L248.8,1192.0 L255.1,1188.5 L261.4,1184.9 L267.8,1181.4 L274.1,1177.9 L280.5,1174.5 L286.8,1171.2 L293.2,1167.9 L299.6,1164.8 L305.9,1161.7 L312.3,1158.8 L318.7,1156.0 L325.0,1153.2 L331.4,1150.6 L337.8,1148.1 L344.3,1145.6 L350.7,1143.2 L357.1,1141.0 L363.5,1138.8 L369.7,1136.8 L375.8,1134.9 L381.9,1133.2 L388.2,1131.4 L394.5,1129.7 L400.7,1128.1 L407.3,1126.5 L414.3,1124.7 L421.6,1122.8 L429.1,1120.8 L436.9,1118.7 L445.0,1116.8 L453.5,1114.8 L462.2,1112.8 L471.2,1111.0 L480.5,1109.3 L490.2,1107.9 L500.5,1106.6 L511.0,1105.5 L521.3,1104.5 L531.6,1103.5 L541.8,1102.7 L551.8,1102.0 L561.3,1101.4 L570.1,1100.9 L578.4,1100.6 L586.4,1100.3 L594.3,1100.1 L601.9,1099.9 L609.2,1099.8 L616.6,1099.7 L624.2,1099.5 L632.2,1099.3 L640.5,1099.2 L648.8,1099.0 L656.7,1098.7 L664.4,1098.3 L672.0,1097.9 L679.2,1097.4 L685.8,1096.8 L691.6,1096.1 L696.8,1095.3 L701.7,1094.4 L706.8,1093.3 L711.8,1092.0 L716.7,1090.6 L721.8,1088.9 L727.5,1086.8 L733.9,1084.4 L741.0,1081.5 L748.3,1078.4 L755.8,1075.2 L763.4,1071.7 L771.2,1068.1 L779.1,1064.3 L787.0,1060.5 L794.7,1056.5 L802.3,1052.5 L810.0,1048.5 L817.7,1044.4 L825.5,1040.2 L833.3,1035.9 L841.2,1031.7 L849.3,1027.6 L857.7,1023.5 L866.5,1019.4 L875.2,1015.4 L883.4,1011.6 L891.2,1008.0 L898.8,1004.6 L905.7,1001.5 L911.5,998.9 L915.9,996.8 L919.1,995.3 L921.5,994.1 L923.7,993.1 L925.5,992.2 L926.8,991.5 L927.8,991.0 L928.4,990.7 L928.7,990.5 L921.8,976.5 L921.6,976.6 L921.5,976.7 L919.1,978.5 L917.6,981.2 L917.1,984.2 L917.9,987.1 L919.8,989.5 L922.4,991.1 L925.4,991.5 L928.4,990.7 L928.5,990.6 L928.6,990.6 L921.8,976.5 L921.5,976.7 L920.8,977.0 L919.9,977.5 L918.6,978.1 L916.9,978.9 L914.8,979.9 L912.3,981.0 L909.2,982.4 L905.0,984.4 L899.2,986.9 L892.3,990.0 L884.6,993.3 L876.7,996.9 L868.4,1000.6 L859.6,1004.6 L850.7,1008.7 L842.0,1012.9 L833.6,1017.1 L825.5,1021.3 L817.7,1025.5 L809.9,1029.7 L802.1,1033.7 L794.5,1037.7 L787.0,1041.6 L779.5,1045.4 L771.8,1049.1 L764.0,1052.8 L756.4,1056.2 L748.9,1059.5 L741.6,1062.6 L734.5,1065.5 L727.7,1068.2 L721.5,1070.5 L716.2,1072.4 L711.5,1073.8 L707.2,1075.1 L702.7,1076.2 L698.2,1077.2 L693.9,1078.0 L689.3,1078.6 L684.0,1079.2 L677.8,1079.7 L670.9,1080.2 L663.6,1080.5 L656.1,1080.8 L648.3,1081.1 L640.1,1081.2 L631.9,1081.4 L623.9,1081.5 L616.3,1081.6 L609.0,1081.7 L601.5,1081.8 L593.8,1082.0 L585.9,1082.2 L577.8,1082.4 L569.3,1082.7 L560.3,1083.1 L550.6,1083.7 L540.5,1084.4 L530.0,1085.2 L519.6,1086.1 L509.1,1087.1 L498.4,1088.3 L487.8,1089.5 L477.6,1091.0 L467.8,1092.6 L458.3,1094.5 L449.3,1096.4 L440.7,1098.3 L432.4,1100.3 L424.4,1102.3 L416.8,1104.3 L409.5,1106.1 L402.6,1107.8 L396.1,1109.4 L389.6,1111.0 L383.1,1112.7 L376.7,1114.5 L370.3,1116.3 L363.9,1118.2 L357.4,1120.3 L350.8,1122.4 L344.2,1124.6 L337.4,1127.0 L330.8,1129.4 L324.1,1132.0 L317.4,1134.6 L310.7,1137.3 L304.0,1140.2 L297.3,1143.1 L290.7,1146.2 L284.0,1149.4 L277.4,1152.7 L270.8,1156.0 L264.3,1159.5 L257.7,1163.0 L251.3,1166.5 L244.8,1170.1 L238.4,1173.7 L231.9,1177.5 L225.2,1181.4 L218.5,1185.5 L211.7,1189.8 L204.8,1194.4 L197.9,1199.2 L191.0,1204.3 L184.1,1209.6 L177.3,1214.9 L170.6,1220.3 L164.1,1225.6 L157.6,1231.0 L151.2,1236.4 L144.7,1242.0 L138.0,1247.9 L131.4,1253.9 L124.9,1259.8 L118.7,1265.2 L112.9,1270.4 L107.4,1275.2 L102.2,1279.6 L97.3,1283.4 L92.5,1286.7 L87.6,1289.6 L82.6,1292.5 L77.5,1295.3 L72.3,1298.1 L67.0,1300.8 L61.8,1303.3 L57.4,1305.7 L53.9,1307.6 L51.2,1309.1 L49.1,1310.4 L47.1,1311.6 L45.2,1312.7 L43.3,1313.8 L41.3,1314.8 L39.2,1316.0 L37.0,1317.4 L34.7,1318.8 L32.5,1320.1 L30.5,1321.4 L28.5,1322.6 L26.5,1323.7 L24.8,1324.7 L23.6,1325.5 L21.4,1327.1 L19.9,1329.5 L19.5,1332.3 L20.1,1335.0 L21.8,1337.3 L24.2,1338.7 L27.0,1339.2Z" fill="#383c41" filter="url(#bl3)" opacity="0.9"/></g>
<path d="M1030.0,720.0 L1060.0,708.0 L1190.0,772.0 L1222.0,800.0 L1245.0,830.0 L1245.0,1000.0 L1030.0,960.0Z" fill="#0f1012"/>
<path d="M1062.0,742.0 L1082.0,735.0 L1195.0,790.0 L1214.0,806.0 L1220.0,835.0 L1215.0,985.0 L1062.0,985.0Z" fill="#26282a"/>
<path d="M1098.0,768.0 L1180.0,805.0 L1196.0,820.0 L1200.0,845.0 L1196.0,985.0 L1098.0,985.0Z" fill="#1b1c1e"/>
<path d="M1040.0,962.0 L1040.0,947.9 L1039.9,928.8 L1039.8,905.9 L1039.8,880.3 L1039.7,853.4 L1039.6,826.2 L1039.6,800.1 L1039.7,776.2 L1039.8,755.8 L1040.0,740.2 L1040.2,728.8 L1040.4,720.5 L1040.5,714.8 L1040.7,711.3 L1040.9,710.1 L1040.7,711.4 L1039.6,713.8 L1040.1,713.5 L1041.9,711.0 L1043.8,707.7 L1045.4,704.1 L1046.7,701.1 L1047.8,698.9 L1048.7,697.5 L1049.2,697.1 L1049.1,697.5 L1048.4,698.3 L1047.8,698.8 L1048.2,699.1 L1050.1,699.4 L1053.7,700.3 L1059.0,702.1 L1065.6,704.5 L1073.0,707.6 L1080.9,711.1 L1089.3,714.9 L1097.8,718.9 L1106.3,722.9 L1114.6,726.8 L1122.4,730.4 L1130.0,733.9 L1137.7,737.4 L1145.4,741.0 L1153.1,744.7 L1160.7,748.3 L1168.0,751.9 L1175.0,755.5 L1181.6,758.9 L1187.6,762.2 L1193.0,765.3 L1198.0,768.3 L1202.6,771.2 L1206.6,773.8 L1210.1,776.2 L1213.2,778.5 L1215.8,780.6 L1218.1,782.7 L1220.0,784.6 L1221.7,786.6 L1223.5,789.2 L1225.5,792.0 L1227.0,794.2 L1227.6,795.2 L1227.7,795.4 L1227.6,795.4 L1227.8,796.3 L1228.1,798.7 L1228.4,802.6 L1228.7,808.3 L1229.0,815.7 L1229.2,825.0 L1229.1,836.3 L1228.9,849.4 L1228.5,863.6 L1228.0,878.6 L1227.5,893.9 L1227.0,909.0 L1226.6,923.6 L1226.2,937.3 L1226.0,949.5 L1226.0,960.8 L1226.2,971.7 L1226.5,982.1 L1226.8,992.0 L1227.2,1001.4 L1227.5,1010.1 L1227.7,1018.1 L1227.7,1025.4 L1227.6,1031.9 L1227.2,1037.6 L1226.6,1042.3 L1226.0,1046.0 L1225.4,1048.6 L1224.8,1050.4 L1224.3,1051.7 L1223.6,1052.8 L1222.7,1054.2 L1221.3,1055.9 L1219.4,1058.2 L1217.3,1060.7 L1215.4,1062.9 L1213.4,1064.8 L1211.1,1066.8 L1208.5,1068.8 L1205.7,1070.8 L1202.6,1072.9 L1199.4,1075.0 L1195.9,1077.2 L1192.4,1079.4 L1188.9,1081.6 L1185.5,1083.8 L1182.0,1085.9 L1178.4,1088.0 L1174.6,1090.1 L1170.8,1092.2 L1166.9,1094.2 L1163.1,1096.2 L1159.4,1098.2 L1155.7,1100.1 L1152.3,1101.9 L1149.0,1103.5 L1145.6,1105.2 L1142.2,1106.8 L1138.9,1108.3 L1135.6,1109.8 L1132.5,1111.2 L1129.6,1112.5 L1127.0,1113.7 L1124.7,1114.7 L1122.9,1115.5 L1137.1,1146.5 L1138.8,1145.7 L1140.9,1144.7 L1143.5,1143.6 L1146.4,1142.2 L1149.7,1140.8 L1153.1,1139.2 L1156.7,1137.5 L1160.4,1135.8 L1164.1,1134.0 L1167.7,1132.1 L1171.3,1130.3 L1175.0,1128.4 L1178.9,1126.4 L1182.9,1124.3 L1187.0,1122.1 L1191.1,1119.8 L1195.2,1117.5 L1199.3,1115.2 L1203.3,1112.7 L1207.1,1110.4 L1210.6,1108.1 L1214.2,1105.9 L1217.8,1103.5 L1221.5,1101.1 L1225.2,1098.5 L1228.9,1095.9 L1232.5,1093.0 L1236.2,1089.9 L1239.7,1086.6 L1242.7,1083.3 L1245.1,1080.5 L1247.3,1078.2 L1249.6,1075.5 L1252.1,1072.3 L1254.5,1068.6 L1256.7,1064.3 L1258.6,1059.6 L1260.2,1054.5 L1261.6,1048.8 L1262.8,1042.4 L1263.9,1035.2 L1264.7,1027.4 L1265.4,1019.2 L1265.9,1010.6 L1266.3,1001.5 L1266.7,992.0 L1267.0,982.1 L1267.3,971.9 L1267.6,961.3 L1268.0,950.5 L1268.4,938.5 L1268.9,925.0 L1269.5,910.5 L1270.0,895.3 L1270.5,879.9 L1270.9,864.7 L1271.2,850.2 L1271.3,836.7 L1271.3,824.6 L1271.0,814.3 L1270.6,806.1 L1270.1,799.5 L1269.5,793.7 L1268.7,788.5 L1267.4,783.3 L1265.5,778.4 L1263.2,774.1 L1260.9,770.7 L1258.8,768.0 L1256.5,764.8 L1253.4,760.9 L1249.8,756.8 L1246.0,753.0 L1241.9,749.5 L1237.7,746.1 L1233.2,743.0 L1228.6,739.9 L1223.7,736.9 L1218.6,733.9 L1213.0,730.7 L1206.8,727.2 L1200.0,723.7 L1192.8,720.1 L1185.3,716.5 L1177.5,712.8 L1169.5,709.2 L1161.4,705.6 L1153.3,702.1 L1145.3,698.8 L1137.6,695.6 L1129.7,692.4 L1121.3,688.9 L1112.5,685.3 L1103.6,681.6 L1094.6,678.1 L1085.7,674.9 L1077.2,671.9 L1069.0,669.5 L1061.3,667.7 L1053.9,666.6 L1046.8,666.6 L1039.9,667.9 L1033.5,670.7 L1028.3,674.8 L1024.6,679.4 L1022.2,683.9 L1020.7,687.9 L1019.7,691.3 L1018.9,694.1 L1018.2,696.3 L1017.9,697.4 L1018.0,697.4 L1017.2,698.6 L1015.3,702.6 L1014.5,706.5 L1014.3,710.0 L1014.2,714.2 L1014.2,720.1 L1014.1,728.5 L1014.0,739.8 L1013.9,755.7 L1013.8,776.1 L1013.8,800.1 L1013.8,826.2 L1013.8,853.4 L1013.9,880.4 L1013.9,906.0 L1014.0,928.9 L1014.0,948.0 L1014.0,962.0Z" fill="#1a1b1d"/>
<path d="M1023.0,940.0 L1023.0,927.4 L1023.1,910.2 L1023.1,889.6 L1023.1,866.7 L1023.1,842.5 L1023.2,818.1 L1023.3,794.5 L1023.5,773.0 L1023.7,754.5 L1024.0,740.1 L1024.3,729.5 L1024.6,721.6 L1024.8,715.9 L1025.0,712.0 L1025.4,709.6 L1025.7,708.4 L1026.1,707.8 L1026.8,706.8 L1028.0,704.9 L1029.5,702.1 L1031.2,698.7 L1032.7,695.4 L1034.2,692.3 L1035.8,689.5 L1037.4,687.2 L1039.2,685.3 L1041.1,684.0 L1043.3,683.1 L1046.1,682.5 L1049.7,682.5 L1054.7,683.2 L1060.9,684.7 L1068.1,686.9 L1076.0,689.7 L1084.5,693.0 L1093.2,696.5 L1102.0,700.3 L1110.7,704.0 L1119.2,707.6 L1127.1,710.9 L1134.8,714.1 L1142.5,717.4 L1150.3,720.8 L1158.0,724.3 L1165.6,727.8 L1173.0,731.3 L1180.2,734.7 L1187.0,738.1 L1193.4,741.4 L1199.4,744.6 L1205.1,747.6 L1210.4,750.4 L1215.4,753.1 L1220.0,755.7 L1224.2,758.2 L1228.1,760.7 L1231.7,763.2 L1235.0,765.9 L1238.0,768.8 L1240.9,772.1 L1243.7,775.4 L1246.1,778.6 L1248.1,781.5 L1249.9,784.4 L1251.4,787.6 L1252.8,791.3 L1254.1,795.7 L1255.2,801.1 L1256.1,807.6 L1257.0,815.4 L1257.7,824.7 L1258.0,835.6 L1258.1,847.8 L1258.0,861.0 L1257.8,874.7 L1257.4,888.6 L1257.0,902.5 L1256.6,915.8 L1256.3,928.4 L1256.0,939.9 L1255.8,950.7 L1255.5,961.5 L1255.2,972.2 L1254.8,982.7 L1254.4,992.6 L1254.1,1002.0 L1253.7,1010.6 L1253.4,1018.2 L1253.2,1024.7 L1253.0,1029.9 L1253.2,1031.0 L1253.8,1032.0 L1254.7,1032.7 L1255.9,1033.0 L1257.0,1032.8 L1258.0,1032.2 L1258.7,1031.3 L1259.0,1030.1 L1259.3,1025.0 L1259.7,1018.5 L1260.2,1010.9 L1260.7,1002.3 L1261.3,993.0 L1261.9,983.0 L1262.5,972.6 L1263.0,961.8 L1263.6,951.0 L1264.0,940.1 L1264.5,928.7 L1265.0,916.1 L1265.6,902.8 L1266.2,888.9 L1266.7,874.9 L1267.2,861.2 L1267.4,847.9 L1267.6,835.5 L1267.4,824.3 L1267.0,814.6 L1266.4,806.5 L1265.6,799.5 L1264.7,793.5 L1263.6,788.2 L1262.2,783.5 L1260.5,779.3 L1258.6,775.3 L1256.4,771.6 L1253.9,767.9 L1251.1,763.9 L1247.8,759.9 L1244.2,756.0 L1240.4,752.5 L1236.2,749.3 L1231.9,746.2 L1227.3,743.3 L1222.5,740.4 L1217.5,737.5 L1212.2,734.6 L1206.6,731.4 L1200.5,728.1 L1193.9,724.6 L1186.9,721.1 L1179.6,717.5 L1172.0,714.0 L1164.3,710.4 L1156.4,706.9 L1148.5,703.5 L1140.6,700.2 L1132.9,697.1 L1124.9,693.8 L1116.4,690.4 L1107.6,686.8 L1098.5,683.2 L1089.5,679.8 L1080.7,676.6 L1072.2,673.8 L1064.3,671.6 L1056.9,670.1 L1050.3,669.5 L1044.3,669.9 L1039.0,671.4 L1034.6,673.8 L1031.0,676.8 L1028.2,680.3 L1026.1,684.0 L1024.4,687.7 L1023.0,691.3 L1021.7,694.7 L1020.5,697.9 L1019.4,700.3 L1018.5,702.1 L1017.7,703.8 L1016.9,705.9 L1016.5,708.4 L1016.3,711.4 L1016.2,715.6 L1016.2,721.4 L1016.1,729.4 L1016.0,739.9 L1015.9,754.4 L1015.9,772.9 L1016.0,794.5 L1016.1,818.1 L1016.3,842.5 L1016.4,866.7 L1016.6,889.7 L1016.8,910.3 L1016.9,927.4 L1017.0,940.0 L1017.2,941.2 L1017.9,942.1 L1018.9,942.8 L1020.0,943.0 L1021.2,942.8 L1022.1,942.1 L1022.8,941.1Z" fill="#303336"/>
<path d="M1154.0,975.0 L1230.0,995.0 L1232.0,1070.0 L1185.0,1090.0 L1154.0,1060.0Z" fill="#2a2c2e"/>
<path d="M1085.1,892.1 L1087.8,891.5 L1091.5,890.5 L1095.9,889.3 L1100.7,888.1 L1105.8,887.0 L1110.8,886.2 L1115.6,885.9 L1120.0,886.3 L1124.0,887.2 L1128.1,888.4 L1132.2,890.1 L1136.1,892.1 L1139.9,894.4 L1143.3,897.2 L1146.4,900.2 L1149.0,903.7 L1151.2,907.8 L1153.1,912.5 L1154.7,917.8 L1155.9,923.3 L1156.9,929.0 L1157.5,934.5 L1157.8,939.7 L1157.7,944.4 L1157.2,948.6 L1156.1,952.5 L1154.5,956.1 L1152.7,959.7 L1150.7,963.1 L1148.9,966.5 L1147.3,969.9 L1146.1,973.5 L1145.4,977.1 L1145.0,980.7 L1144.8,984.4 L1144.7,988.0 L1144.6,991.6 L1144.4,995.3 L1143.9,998.9 L1143.2,1002.5 L1142.3,1006.4 L1141.2,1010.5 L1140.0,1014.7 L1138.7,1018.9 L1137.2,1022.8 L1135.5,1026.4 L1133.7,1029.3 L1131.6,1031.6 L1129.2,1033.2 L1126.5,1034.3 L1123.5,1035.0 L1120.3,1035.2 L1117.1,1035.0 L1114.0,1034.3 L1111.0,1033.2 L1108.3,1031.6 L1105.8,1029.5 L1103.4,1027.0 L1101.1,1024.1 L1098.9,1020.7 L1096.8,1016.8 L1094.7,1012.5 L1092.8,1007.7 L1090.9,1002.5 L1089.0,996.6 L1087.2,989.9 L1085.3,982.6 L1083.6,974.9 L1082.1,967.0 L1080.8,959.2 L1079.9,951.6 L1079.3,944.4 L1079.2,937.2 L1079.6,929.7 L1080.4,922.0 L1081.5,914.6 L1082.6,907.6 L1083.6,901.3 L1084.5,896.1 L1085.1,892.1Z" fill="#121314"/>
<path d="M1097.0,1005.0 L1134.0,1005.0 L1134.0,1038.0 L1105.0,1040.0 L1097.0,1030.0Z" fill="#161718"/>
<path d="M1133.0,972.0 L1154.0,975.0 L1154.0,1024.0 L1141.0,1022.0 L1133.0,1030.0Z" fill="#e3e3e3"/>
<defs><clipPath id="kc"><path d="M1015.3,928.4 L1015.7,926.9 L1016.2,924.8 L1016.8,922.3 L1017.5,919.6 L1018.2,916.8 L1019.1,914.1 L1020.1,911.6 L1021.1,909.5 L1022.4,907.7 L1023.7,905.9 L1025.2,904.3 L1026.8,902.8 L1028.5,901.5 L1030.1,900.5 L1031.8,899.7 L1033.3,899.3 L1034.9,899.4 L1036.4,900.0 L1037.9,900.9 L1039.5,902.0 L1041.0,903.3 L1042.6,904.5 L1044.2,905.7 L1045.8,906.6 L1047.6,907.4 L1049.3,908.2 L1051.1,908.9 L1053.0,909.6 L1054.8,910.3 L1056.7,910.9 L1058.5,911.4 L1060.4,911.8 L1062.2,912.1 L1064.1,912.1 L1066.0,911.9 L1067.9,911.7 L1069.7,911.6 L1071.5,911.6 L1073.3,911.9 L1074.9,912.4 L1076.5,913.3 L1078.1,914.4 L1079.6,915.7 L1081.1,917.2 L1082.5,918.8 L1083.7,920.5 L1084.8,922.2 L1085.7,924.0 L1086.2,926.0 L1086.4,928.1 L1086.4,930.3 L1086.3,932.6 L1086.2,934.9 L1086.2,937.2 L1086.6,939.4 L1087.4,941.5 L1088.7,943.4 L1090.4,945.3 L1092.4,947.0 L1094.5,948.8 L1096.7,950.5 L1098.8,952.3 L1100.8,954.1 L1102.5,956.0 L1104.1,958.1 L1105.6,960.2 L1107.1,962.3 L1108.5,964.6 L1109.7,966.8 L1110.7,969.0 L1111.4,971.3 L1111.8,973.5 L1111.7,975.6 L1111.2,977.8 L1110.2,979.9 L1109.1,982.0 L1108.0,984.1 L1107.0,986.3 L1106.3,988.6 L1106.0,990.9 L1106.3,993.4 L1107.1,996.0 L1108.1,998.7 L1109.3,1001.4 L1110.5,1004.1 L1111.4,1006.7 L1111.9,1009.1 L1111.8,1011.2 L1111.2,1013.3 L1110.2,1015.2 L1108.9,1017.0 L1107.3,1018.7 L1105.5,1020.3 L1103.6,1021.6 L1101.6,1022.6 L1099.6,1023.5 L1097.5,1023.9 L1095.0,1023.8 L1092.4,1023.5 L1089.7,1023.1 L1087.0,1022.5 L1084.4,1022.0 L1082.0,1021.7 L1079.9,1021.7 L1078.0,1022.1 L1076.3,1022.8 L1074.7,1023.7 L1073.2,1024.7 L1071.8,1025.5 L1070.5,1026.2 L1069.1,1026.5 L1067.6,1026.4 L1066.2,1025.7 L1064.7,1024.6 L1063.3,1023.2 L1061.8,1021.6 L1060.4,1019.8 L1059.0,1018.1 L1057.5,1016.3 L1056.0,1014.7 L1054.6,1013.3 L1053.1,1011.8 L1051.7,1010.4 L1050.2,1009.0 L1048.8,1007.5 L1047.2,1006.0 L1045.6,1004.3 L1043.8,1002.5 L1041.9,1000.6 L1039.7,998.7 L1037.4,996.6 L1035.0,994.5 L1032.7,992.3 L1030.5,990.0 L1028.6,987.6 L1027.0,985.1 L1025.6,982.4 L1024.6,979.5 L1023.7,976.5 L1023.0,973.5 L1022.3,970.4 L1021.8,967.4 L1021.2,964.5 L1020.6,961.8 L1019.9,959.4 L1019.2,957.0 L1018.6,954.8 L1018.0,952.7 L1017.5,950.6 L1017.0,948.5 L1016.6,946.5 L1016.2,944.4 L1015.9,942.2 L1015.7,939.9 L1015.6,937.6 L1015.5,935.3 L1015.4,933.2 L1015.4,931.2 L1015.4,929.6 L1015.3,928.4Z"/></clipPath></defs>
<path d="M1015.3,928.4 L1015.7,926.9 L1016.2,924.8 L1016.8,922.3 L1017.5,919.6 L1018.2,916.8 L1019.1,914.1 L1020.1,911.6 L1021.1,909.5 L1022.4,907.7 L1023.7,905.9 L1025.2,904.3 L1026.8,902.8 L1028.5,901.5 L1030.1,900.5 L1031.8,899.7 L1033.3,899.3 L1034.9,899.4 L1036.4,900.0 L1037.9,900.9 L1039.5,902.0 L1041.0,903.3 L1042.6,904.5 L1044.2,905.7 L1045.8,906.6 L1047.6,907.4 L1049.3,908.2 L1051.1,908.9 L1053.0,909.6 L1054.8,910.3 L1056.7,910.9 L1058.5,911.4 L1060.4,911.8 L1062.2,912.1 L1064.1,912.1 L1066.0,911.9 L1067.9,911.7 L1069.7,911.6 L1071.5,911.6 L1073.3,911.9 L1074.9,912.4 L1076.5,913.3 L1078.1,914.4 L1079.6,915.7 L1081.1,917.2 L1082.5,918.8 L1083.7,920.5 L1084.8,922.2 L1085.7,924.0 L1086.2,926.0 L1086.4,928.1 L1086.4,930.3 L1086.3,932.6 L1086.2,934.9 L1086.2,937.2 L1086.6,939.4 L1087.4,941.5 L1088.7,943.4 L1090.4,945.3 L1092.4,947.0 L1094.5,948.8 L1096.7,950.5 L1098.8,952.3 L1100.8,954.1 L1102.5,956.0 L1104.1,958.1 L1105.6,960.2 L1107.1,962.3 L1108.5,964.6 L1109.7,966.8 L1110.7,969.0 L1111.4,971.3 L1111.8,973.5 L1111.7,975.6 L1111.2,977.8 L1110.2,979.9 L1109.1,982.0 L1108.0,984.1 L1107.0,986.3 L1106.3,988.6 L1106.0,990.9 L1106.3,993.4 L1107.1,996.0 L1108.1,998.7 L1109.3,1001.4 L1110.5,1004.1 L1111.4,1006.7 L1111.9,1009.1 L1111.8,1011.2 L1111.2,1013.3 L1110.2,1015.2 L1108.9,1017.0 L1107.3,1018.7 L1105.5,1020.3 L1103.6,1021.6 L1101.6,1022.6 L1099.6,1023.5 L1097.5,1023.9 L1095.0,1023.8 L1092.4,1023.5 L1089.7,1023.1 L1087.0,1022.5 L1084.4,1022.0 L1082.0,1021.7 L1079.9,1021.7 L1078.0,1022.1 L1076.3,1022.8 L1074.7,1023.7 L1073.2,1024.7 L1071.8,1025.5 L1070.5,1026.2 L1069.1,1026.5 L1067.6,1026.4 L1066.2,1025.7 L1064.7,1024.6 L1063.3,1023.2 L1061.8,1021.6 L1060.4,1019.8 L1059.0,1018.1 L1057.5,1016.3 L1056.0,1014.7 L1054.6,1013.3 L1053.1,1011.8 L1051.7,1010.4 L1050.2,1009.0 L1048.8,1007.5 L1047.2,1006.0 L1045.6,1004.3 L1043.8,1002.5 L1041.9,1000.6 L1039.7,998.7 L1037.4,996.6 L1035.0,994.5 L1032.7,992.3 L1030.5,990.0 L1028.6,987.6 L1027.0,985.1 L1025.6,982.4 L1024.6,979.5 L1023.7,976.5 L1023.0,973.5 L1022.3,970.4 L1021.8,967.4 L1021.2,964.5 L1020.6,961.8 L1019.9,959.4 L1019.2,957.0 L1018.6,954.8 L1018.0,952.7 L1017.5,950.6 L1017.0,948.5 L1016.6,946.5 L1016.2,944.4 L1015.9,942.2 L1015.7,939.9 L1015.6,937.6 L1015.5,935.3 L1015.4,933.2 L1015.4,931.2 L1015.4,929.6 L1015.3,928.4Z" fill="#2a2b2e"/>
<g clip-path="url(#kc)"><path d="M1009.5,886.3 L1096.7,886.3 L1096.7,937.1 L1079.9,929.3 L1044.4,940.0 L1014.5,949.6Z" fill="#4e4f52"/><path d="M1014.5,949.6 L1044.4,940.0 L1079.9,929.3 L1096.7,937.1 L1096.7,944.4 L1079.3,937.1 L1044.4,947.9 L1015.3,958.9Z" fill="#3a3b3e"/></g>
<path d="M1044.4,970.6 L1046.2,970.5 L1048.6,970.3 L1051.5,970.0 L1054.7,969.8 L1058.1,969.7 L1061.5,969.7 L1064.7,970.0 L1067.6,970.6 L1070.4,971.4 L1073.1,972.5 L1075.9,973.8 L1078.5,975.3 L1081.1,976.9 L1083.6,978.6 L1085.9,980.4 L1088.0,982.2 L1090.0,984.1 L1091.9,986.1 L1093.6,988.3 L1095.3,990.5 L1096.7,992.8 L1097.9,995.1 L1098.9,997.4 L1099.6,999.6 L1100.0,1001.9 L1100.3,1004.4 L1100.2,1006.9 L1100.0,1009.4 L1099.5,1011.8 L1098.8,1013.9 L1097.9,1015.7 L1096.7,1017.1 L1095.2,1017.9 L1093.2,1018.2 L1090.9,1018.2 L1088.4,1018.0 L1085.8,1017.6 L1083.4,1017.3 L1081.1,1017.0 L1079.3,1017.1 L1077.8,1017.4 L1076.6,1018.1 L1075.6,1018.8 L1074.7,1019.6 L1073.9,1020.2 L1072.9,1020.6 L1071.9,1020.6 L1070.6,1020.0 L1069.0,1018.8 L1067.3,1017.0 L1065.4,1014.9 L1063.5,1012.5 L1061.5,1010.0 L1059.6,1007.4 L1057.7,1004.8 L1056.0,1002.5 L1054.3,1000.3 L1052.6,998.1 L1050.9,995.9 L1049.3,993.6 L1047.8,991.4 L1046.4,989.2 L1045.3,987.1 L1044.4,985.1 L1043.8,983.0 L1043.6,980.9 L1043.5,978.8 L1043.7,976.7 L1043.9,974.8 L1044.1,973.1 L1044.3,971.7 L1044.4,970.6Z" fill="#1f2022"/>
<defs><clipPath id="fc4"><path d="M1147.1,1101.5 L1143.8,1102.9 L1139.6,1104.6 L1134.6,1106.7 L1129.1,1109.0 L1123.0,1111.5 L1116.5,1114.1 L1109.9,1116.9 L1103.0,1119.8 L1096.2,1122.7 L1089.5,1125.5 L1083.1,1128.4 L1076.9,1131.1 L1071.1,1133.8 L1065.3,1136.5 L1059.7,1139.2 L1054.1,1142.0 L1048.6,1144.7 L1043.1,1147.4 L1037.6,1150.1 L1032.1,1152.9 L1026.5,1155.6 L1020.8,1158.3 L1015.0,1161.0 L1009.1,1163.7 L1002.9,1166.4 L996.3,1169.2 L989.3,1172.0 L982.0,1175.0 L974.5,1178.0 L966.8,1181.0 L959.2,1184.1 L951.6,1187.3 L944.1,1190.5 L936.8,1193.8 L929.7,1197.2 L923.0,1200.7 L916.8,1204.3 L911.0,1207.8 L905.4,1211.4 L900.2,1215.1 L895.2,1218.7 L890.6,1222.3 L886.2,1225.9 L882.1,1229.4 L878.2,1232.8 L874.7,1236.1 L871.4,1239.3 L868.1,1242.5 L864.7,1246.2 L861.3,1250.4 L858.1,1255.1 L855.4,1260.2 L853.3,1265.4 L851.8,1270.3 L851.0,1274.2 L850.5,1277.0 L850.2,1278.5 L850.0,1279.1 L849.9,1279.2 L849.6,1280.0 L848.9,1282.6 L848.1,1285.9 L847.4,1289.2 L846.8,1292.4 L846.2,1295.6 L845.7,1298.6 L845.2,1301.6 L844.8,1304.4 L844.3,1307.1 L843.8,1309.5 L843.4,1311.7 L842.9,1313.9 L842.3,1316.3 L841.7,1318.8 L841.1,1321.1 L840.5,1323.1 L840.0,1325.0 L839.5,1326.7 L839.0,1328.3 L838.5,1329.8 L837.9,1331.3 L837.4,1332.9 L836.7,1334.6 L836.0,1336.5 L835.1,1338.7 L834.1,1341.1 L833.0,1343.7 L831.9,1346.4 L830.7,1349.1 L829.5,1351.9 L828.2,1354.8 L826.9,1357.6 L825.5,1360.5 L824.1,1363.3 L822.6,1366.0 L821.2,1368.6 L819.7,1371.2 L818.1,1373.8 L816.3,1376.6 L814.4,1379.5 L812.4,1382.5 L810.3,1385.5 L808.2,1388.5 L806.2,1391.4 L804.1,1394.3 L802.1,1397.1 L800.1,1399.9 L798.3,1402.4 L796.8,1404.5 L795.5,1406.2 L794.3,1407.7 L793.2,1409.1 L792.2,1410.3 L791.1,1411.6 L790.0,1412.9 L788.9,1414.3 L787.6,1415.9 L786.2,1417.6 L784.6,1419.6 L783.0,1421.8 L781.1,1424.3 L779.0,1427.1 L776.8,1430.2 L774.4,1433.5 L772.0,1436.8 L769.6,1440.1 L767.2,1443.4 L764.9,1446.6 L762.9,1449.4 L761.0,1452.0 L759.4,1454.2 L758.2,1455.8 L831.8,1504.2 L832.8,1502.4 L834.2,1500.1 L835.8,1497.3 L837.6,1494.3 L839.6,1491.0 L841.7,1487.5 L843.8,1483.9 L845.9,1480.4 L847.9,1477.0 L849.8,1473.7 L851.5,1470.8 L853.0,1468.2 L854.3,1466.0 L855.3,1464.1 L856.3,1462.4 L857.1,1460.8 L858.0,1459.3 L858.9,1457.7 L859.8,1456.0 L860.8,1454.3 L861.8,1452.4 L863.0,1450.3 L864.3,1448.0 L865.7,1445.6 L867.1,1443.1 L868.7,1440.4 L870.4,1437.4 L872.3,1434.3 L874.3,1431.0 L876.3,1427.5 L878.4,1424.0 L880.5,1420.3 L882.6,1416.6 L884.8,1412.9 L886.8,1409.1 L888.8,1405.4 L890.7,1401.8 L892.5,1398.2 L894.3,1394.6 L896.1,1391.0 L897.8,1387.5 L899.5,1383.9 L901.1,1380.4 L902.6,1377.0 L904.1,1373.5 L905.5,1370.2 L906.8,1366.8 L908.0,1363.5 L909.2,1360.2 L910.3,1356.9 L911.2,1353.7 L912.0,1350.6 L912.7,1347.6 L913.3,1344.8 L913.8,1342.2 L914.3,1339.6 L914.7,1337.2 L915.2,1334.9 L915.6,1332.7 L916.1,1330.1 L916.7,1327.1 L917.4,1323.8 L918.0,1320.6 L918.6,1317.5 L919.1,1314.5 L919.7,1311.6 L920.2,1308.9 L920.7,1306.3 L921.1,1304.0 L921.5,1301.9 L921.9,1300.2 L922.4,1298.0 L923.2,1294.5 L923.8,1290.6 L924.0,1287.6 L924.1,1285.8 L924.0,1285.3 L923.7,1286.1 L923.1,1287.8 L922.2,1289.7 L921.2,1291.4 L920.5,1292.3 L920.2,1292.4 L920.9,1291.5 L922.5,1289.7 L924.5,1287.6 L926.8,1285.3 L929.4,1282.9 L932.2,1280.4 L935.3,1277.8 L938.6,1275.1 L942.1,1272.4 L945.8,1269.6 L949.8,1266.8 L953.9,1264.0 L958.2,1261.3 L962.8,1258.5 L968.0,1255.4 L973.9,1252.2 L980.3,1248.9 L987.1,1245.4 L994.2,1241.9 L1001.4,1238.3 L1008.7,1234.7 L1016.0,1231.0 L1023.2,1227.4 L1030.2,1223.8 L1036.9,1220.3 L1043.2,1216.8 L1049.2,1213.5 L1055.1,1210.3 L1060.8,1207.1 L1066.3,1203.9 L1071.7,1200.8 L1077.0,1197.8 L1082.2,1194.8 L1087.4,1191.8 L1092.6,1188.8 L1097.8,1185.9 L1103.1,1182.9 L1108.6,1179.8 L1114.6,1176.5 L1120.8,1173.0 L1127.2,1169.5 L1133.6,1166.0 L1139.8,1162.5 L1145.9,1159.2 L1151.6,1156.0 L1156.9,1153.1 L1161.6,1150.5 L1165.6,1148.3 L1168.9,1146.5Z"/></clipPath></defs>
<path d="M1147.1,1101.5 L1143.8,1102.9 L1139.6,1104.6 L1134.6,1106.7 L1129.1,1109.0 L1123.0,1111.5 L1116.5,1114.1 L1109.9,1116.9 L1103.0,1119.8 L1096.2,1122.7 L1089.5,1125.5 L1083.1,1128.4 L1076.9,1131.1 L1071.1,1133.8 L1065.3,1136.5 L1059.7,1139.2 L1054.1,1142.0 L1048.6,1144.7 L1043.1,1147.4 L1037.6,1150.1 L1032.1,1152.9 L1026.5,1155.6 L1020.8,1158.3 L1015.0,1161.0 L1009.1,1163.7 L1002.9,1166.4 L996.3,1169.2 L989.3,1172.0 L982.0,1175.0 L974.5,1178.0 L966.8,1181.0 L959.2,1184.1 L951.6,1187.3 L944.1,1190.5 L936.8,1193.8 L929.7,1197.2 L923.0,1200.7 L916.8,1204.3 L911.0,1207.8 L905.4,1211.4 L900.2,1215.1 L895.2,1218.7 L890.6,1222.3 L886.2,1225.9 L882.1,1229.4 L878.2,1232.8 L874.7,1236.1 L871.4,1239.3 L868.1,1242.5 L864.7,1246.2 L861.3,1250.4 L858.1,1255.1 L855.4,1260.2 L853.3,1265.4 L851.8,1270.3 L851.0,1274.2 L850.5,1277.0 L850.2,1278.5 L850.0,1279.1 L849.9,1279.2 L849.6,1280.0 L848.9,1282.6 L848.1,1285.9 L847.4,1289.2 L846.8,1292.4 L846.2,1295.6 L845.7,1298.6 L845.2,1301.6 L844.8,1304.4 L844.3,1307.1 L843.8,1309.5 L843.4,1311.7 L842.9,1313.9 L842.3,1316.3 L841.7,1318.8 L841.1,1321.1 L840.5,1323.1 L840.0,1325.0 L839.5,1326.7 L839.0,1328.3 L838.5,1329.8 L837.9,1331.3 L837.4,1332.9 L836.7,1334.6 L836.0,1336.5 L835.1,1338.7 L834.1,1341.1 L833.0,1343.7 L831.9,1346.4 L830.7,1349.1 L829.5,1351.9 L828.2,1354.8 L826.9,1357.6 L825.5,1360.5 L824.1,1363.3 L822.6,1366.0 L821.2,1368.6 L819.7,1371.2 L818.1,1373.8 L816.3,1376.6 L814.4,1379.5 L812.4,1382.5 L810.3,1385.5 L808.2,1388.5 L806.2,1391.4 L804.1,1394.3 L802.1,1397.1 L800.1,1399.9 L798.3,1402.4 L796.8,1404.5 L795.5,1406.2 L794.3,1407.7 L793.2,1409.1 L792.2,1410.3 L791.1,1411.6 L790.0,1412.9 L788.9,1414.3 L787.6,1415.9 L786.2,1417.6 L784.6,1419.6 L783.0,1421.8 L781.1,1424.3 L779.0,1427.1 L776.8,1430.2 L774.4,1433.5 L772.0,1436.8 L769.6,1440.1 L767.2,1443.4 L764.9,1446.6 L762.9,1449.4 L761.0,1452.0 L759.4,1454.2 L758.2,1455.8 L831.8,1504.2 L832.8,1502.4 L834.2,1500.1 L835.8,1497.3 L837.6,1494.3 L839.6,1491.0 L841.7,1487.5 L843.8,1483.9 L845.9,1480.4 L847.9,1477.0 L849.8,1473.7 L851.5,1470.8 L853.0,1468.2 L854.3,1466.0 L855.3,1464.1 L856.3,1462.4 L857.1,1460.8 L858.0,1459.3 L858.9,1457.7 L859.8,1456.0 L860.8,1454.3 L861.8,1452.4 L863.0,1450.3 L864.3,1448.0 L865.7,1445.6 L867.1,1443.1 L868.7,1440.4 L870.4,1437.4 L872.3,1434.3 L874.3,1431.0 L876.3,1427.5 L878.4,1424.0 L880.5,1420.3 L882.6,1416.6 L884.8,1412.9 L886.8,1409.1 L888.8,1405.4 L890.7,1401.8 L892.5,1398.2 L894.3,1394.6 L896.1,1391.0 L897.8,1387.5 L899.5,1383.9 L901.1,1380.4 L902.6,1377.0 L904.1,1373.5 L905.5,1370.2 L906.8,1366.8 L908.0,1363.5 L909.2,1360.2 L910.3,1356.9 L911.2,1353.7 L912.0,1350.6 L912.7,1347.6 L913.3,1344.8 L913.8,1342.2 L914.3,1339.6 L914.7,1337.2 L915.2,1334.9 L915.6,1332.7 L916.1,1330.1 L916.7,1327.1 L917.4,1323.8 L918.0,1320.6 L918.6,1317.5 L919.1,1314.5 L919.7,1311.6 L920.2,1308.9 L920.7,1306.3 L921.1,1304.0 L921.5,1301.9 L921.9,1300.2 L922.4,1298.0 L923.2,1294.5 L923.8,1290.6 L924.0,1287.6 L924.1,1285.8 L924.0,1285.3 L923.7,1286.1 L923.1,1287.8 L922.2,1289.7 L921.2,1291.4 L920.5,1292.3 L920.2,1292.4 L920.9,1291.5 L922.5,1289.7 L924.5,1287.6 L926.8,1285.3 L929.4,1282.9 L932.2,1280.4 L935.3,1277.8 L938.6,1275.1 L942.1,1272.4 L945.8,1269.6 L949.8,1266.8 L953.9,1264.0 L958.2,1261.3 L962.8,1258.5 L968.0,1255.4 L973.9,1252.2 L980.3,1248.9 L987.1,1245.4 L994.2,1241.9 L1001.4,1238.3 L1008.7,1234.7 L1016.0,1231.0 L1023.2,1227.4 L1030.2,1223.8 L1036.9,1220.3 L1043.2,1216.8 L1049.2,1213.5 L1055.1,1210.3 L1060.8,1207.1 L1066.3,1203.9 L1071.7,1200.8 L1077.0,1197.8 L1082.2,1194.8 L1087.4,1191.8 L1092.6,1188.8 L1097.8,1185.9 L1103.1,1182.9 L1108.6,1179.8 L1114.6,1176.5 L1120.8,1173.0 L1127.2,1169.5 L1133.6,1166.0 L1139.8,1162.5 L1145.9,1159.2 L1151.6,1156.0 L1156.9,1153.1 L1161.6,1150.5 L1165.6,1148.3 L1168.9,1146.5Z" fill="#2d3034"/>
<g clip-path="url(#fc4)"><path d="M1163.1,1135.4 L1158.0,1138.1 L1150.7,1141.8 L1142.2,1146.1 L1133.6,1150.6 L1124.7,1155.2 L1115.1,1160.2 L1105.4,1165.3 L1096.2,1170.1 L1087.9,1174.6 L1080.1,1178.9 L1072.4,1183.2 L1064.3,1187.6 L1056.0,1192.2 L1047.6,1196.8 L1038.9,1201.5 L1029.7,1206.3 L1019.5,1211.3 L1008.6,1216.5 L997.5,1221.7 L986.9,1226.9 L976.9,1231.8 L967.1,1236.7 L957.7,1241.5 L949.1,1246.3 L941.6,1251.0 L935.0,1255.5 L929.3,1259.9 L924.0,1264.1 L918.8,1268.5 L914.2,1272.9 L910.6,1276.4 L909.1,1277.9 L927.5,1283.3 L927.2,1292.7 L925.8,1294.5 L905.7,1288.2 L905.2,1286.0 L905.0,1288.3 L904.6,1291.1 L904.1,1293.9 L903.6,1296.8 L902.9,1300.2 L902.1,1304.0 L901.2,1308.1 L900.4,1312.6 L899.5,1317.3 L898.6,1321.9 L897.8,1326.3 L897.0,1330.2 L896.3,1333.7 L895.7,1336.9 L894.8,1340.4 L893.8,1344.4 L892.6,1348.6 L891.4,1352.7 L890.0,1356.9 L888.3,1361.3 L886.4,1366.0 L884.2,1370.9 L882.0,1375.9 L879.6,1380.9 L877.2,1386.0 L874.6,1391.2 L871.9,1396.3 L868.9,1401.5 L865.8,1406.9 L862.6,1412.3 L859.6,1417.4 L856.7,1422.2 L853.8,1426.9 L851.0,1431.3 L848.5,1435.3 L846.4,1438.8 L844.6,1441.7 L843.0,1444.4 L841.4,1447.0 L839.9,1449.5 L838.5,1451.8 L837.0,1454.1 L835.1,1457.2 L832.5,1461.4 L829.5,1466.3 L826.3,1471.4 L823.3,1476.1 L820.4,1480.8 L817.5,1485.5 L814.9,1489.7 L813.1,1492.6 L812.4,1493.7 L838.1,1509.1 L838.5,1508.4 L838.7,1508.0 L840.7,1502.5 L840.4,1496.7 L837.9,1491.4 L833.6,1487.5 L828.1,1485.5 L822.3,1485.8 L817.0,1488.2 L813.1,1492.6 L812.8,1492.9 L812.4,1493.6 L838.0,1509.2 L838.7,1508.0 L840.4,1505.1 L842.9,1500.9 L845.7,1496.0 L848.5,1491.3 L851.3,1486.4 L854.3,1481.2 L857.2,1476.1 L859.7,1471.7 L861.6,1468.4 L863.0,1465.7 L864.2,1463.4 L865.6,1460.9 L867.0,1458.1 L868.5,1455.4 L870.1,1452.5 L871.9,1449.1 L874.2,1445.2 L876.8,1440.7 L879.6,1435.9 L882.5,1430.9 L885.5,1425.6 L888.7,1420.1 L891.9,1414.3 L894.9,1408.7 L897.8,1403.1 L900.6,1397.6 L903.2,1392.2 L905.7,1386.9 L908.1,1381.6 L910.5,1376.3 L912.6,1371.0 L914.6,1365.7 L916.3,1360.5 L917.7,1355.5 L918.9,1350.8 L920.0,1346.4 L920.9,1342.2 L921.5,1338.4 L922.2,1334.8 L922.8,1331.0 L923.6,1326.7 L924.5,1322.0 L925.4,1317.4 L926.2,1313.1 L927.0,1309.3 L927.9,1305.5 L928.6,1301.7 L929.3,1298.0 L929.8,1294.3 L930.1,1290.9 L930.3,1287.9 L930.0,1282.4 L909.0,1276.1 L905.7,1280.4 L904.5,1292.1 L924.5,1296.9 L927.8,1293.8 L931.2,1290.3 L935.2,1286.4 L939.4,1282.7 L944.1,1278.9 L949.2,1275.0 L954.9,1270.9 L961.4,1266.7 L969.1,1262.1 L977.9,1257.3 L987.4,1252.2 L997.1,1247.1 L1007.4,1241.8 L1018.3,1236.2 L1029.2,1230.7 L1039.6,1225.3 L1049.0,1220.1 L1057.8,1215.1 L1066.2,1210.3 L1074.4,1205.5 L1082.4,1200.9 L1090.0,1196.5 L1097.7,1192.0 L1105.8,1187.4 L1114.7,1182.3 L1124.2,1176.9 L1133.6,1171.6 L1142.3,1166.7 L1150.7,1161.9 L1159.0,1157.2 L1166.1,1153.2 L1171.1,1150.4 L1173.7,1148.3 L1175.3,1145.4 L1175.6,1142.1 L1174.6,1138.9 L1172.5,1136.3 L1169.6,1134.8 L1166.3,1134.5Z" fill="#25282c" filter="url(#bl3)" opacity="0.9"/><path d="M1148.5,1103.6 L1143.2,1105.8 L1135.7,1109.0 L1126.9,1112.6 L1117.9,1116.4 L1108.6,1120.4 L1098.4,1124.8 L1088.2,1129.2 L1078.4,1133.6 L1069.5,1137.8 L1061.2,1141.9 L1053.0,1145.9 L1044.8,1150.0 L1036.4,1154.1 L1028.2,1158.2 L1019.8,1162.3 L1010.8,1166.4 L1000.9,1170.7 L990.2,1175.0 L979.2,1179.5 L968.3,1184.0 L957.3,1188.7 L946.2,1193.5 L935.3,1198.5 L925.0,1203.6 L915.8,1209.0 L907.5,1214.4 L899.9,1219.8 L893.0,1224.9 L886.6,1229.9 L880.7,1234.9 L875.3,1240.0 L870.2,1245.6 L865.7,1251.6 L861.8,1257.9 L858.6,1263.6 L856.2,1268.7 L854.4,1273.3 L853.5,1277.4 L853.3,1279.9 L853.0,1282.1 L852.2,1285.6 L851.3,1290.0 L850.4,1294.6 L849.5,1299.0 L848.7,1303.3 L847.9,1307.5 L847.2,1311.4 L846.5,1314.9 L845.7,1318.2 L845.0,1321.3 L844.2,1324.2 L843.3,1327.1 L842.5,1329.8 L841.7,1332.2 L840.7,1334.8 L839.6,1337.8 L838.2,1341.4 L836.6,1345.3 L834.8,1349.4 L833.0,1353.5 L831.0,1357.7 L829.0,1361.9 L826.9,1366.1 L824.7,1370.3 L822.2,1374.5 L819.5,1378.8 L816.6,1383.1 L813.7,1387.4 L810.7,1391.8 L807.6,1396.2 L804.6,1400.4 L802.0,1404.1 L799.9,1406.9 L798.2,1409.1 L796.6,1411.2 L794.8,1413.5 L793.0,1415.7 L791.3,1417.9 L789.2,1420.5 L786.8,1423.7 L783.7,1427.9 L780.2,1432.7 L776.7,1437.6 L773.4,1442.2 L770.2,1446.7 L766.9,1451.2 L764.1,1455.2 L762.1,1458.0 L761.3,1459.1 L783.1,1474.1 L783.5,1473.4 L783.8,1473.1 L785.8,1468.3 L785.9,1463.2 L784.0,1458.4 L780.5,1454.7 L775.8,1452.6 L770.6,1452.5 L765.8,1454.4 L762.1,1458.0 L761.8,1458.3 L761.4,1459.0 L783.0,1474.2 L783.8,1473.0 L785.7,1470.2 L788.4,1466.2 L791.5,1461.6 L794.6,1457.0 L797.8,1452.3 L801.2,1447.3 L804.4,1442.5 L807.2,1438.4 L809.4,1435.4 L811.1,1432.9 L812.8,1430.6 L814.5,1428.2 L816.2,1425.8 L817.8,1423.5 L819.5,1421.0 L821.6,1417.9 L824.2,1414.1 L827.2,1409.7 L830.3,1405.0 L833.3,1400.4 L836.2,1395.8 L839.1,1391.2 L842.0,1386.4 L844.8,1381.6 L847.3,1376.8 L849.7,1372.1 L851.9,1367.6 L854.0,1363.1 L856.0,1358.6 L857.9,1354.2 L859.6,1350.0 L861.1,1346.1 L862.4,1342.6 L863.4,1339.5 L864.3,1336.5 L865.2,1333.4 L866.1,1330.1 L866.9,1326.8 L867.7,1323.3 L868.5,1319.6 L869.3,1315.6 L870.1,1311.5 L870.8,1307.4 L871.6,1303.3 L872.4,1299.1 L873.4,1294.6 L874.3,1290.2 L875.1,1286.0 L875.6,1282.3 L875.7,1280.1 L875.7,1279.5 L876.4,1277.5 L878.2,1273.5 L880.7,1268.7 L883.7,1263.8 L886.9,1259.3 L890.7,1255.1 L895.1,1250.9 L900.2,1246.5 L906.1,1241.9 L912.5,1236.9 L919.5,1231.9 L927.0,1226.9 L935.2,1222.0 L944.4,1217.1 L954.7,1212.2 L965.5,1207.3 L976.3,1202.4 L986.9,1197.6 L997.7,1192.9 L1008.4,1188.2 L1018.6,1183.6 L1027.9,1179.1 L1036.5,1174.7 L1044.7,1170.5 L1052.9,1166.2 L1061.2,1162.0 L1069.2,1157.8 L1077.3,1153.6 L1085.9,1149.3 L1095.3,1144.8 L1105.3,1140.1 L1115.3,1135.4 L1124.5,1131.2 L1133.3,1127.1 L1141.9,1123.1 L1149.3,1119.7 L1154.5,1117.4 L1156.9,1115.7 L1158.5,1113.2 L1159.0,1110.3 L1158.4,1107.5 L1156.7,1105.1 L1154.2,1103.5 L1151.3,1103.0Z" fill="#383c41" filter="url(#bl3)" opacity="0.9"/></g>
</g>
<defs><radialGradient id="rg" gradientUnits="userSpaceOnUse" cx="1075" cy="950" r="160"><stop offset="0.6" stop-color="#9fe03c"/><stop offset="0.78" stop-color="#b4e85a"/><stop offset="1" stop-color="#86d226"/></radialGradient></defs>
<defs><filter id="inl" x="-5%" y="-5%" width="110%" height="110%"><feMorphology operator="erode" radius="2.5" in="SourceAlpha" result="e"/><feMorphology operator="erode" radius="4.5" in="SourceAlpha" result="e2"/><feComposite in="e" in2="e2" operator="out" result="ring"/><feFlood flood-color="#ecffc0" flood-opacity="0.75"/><feComposite in2="ring" operator="in"/></filter></defs>
<path d="M993.5,813.6 L997.0,812.4 L1001.5,810.7 L1006.8,808.6 L1012.8,806.4 L1019.2,804.2 L1025.8,802.1 L1032.3,800.4 L1038.6,799.1 L1044.9,798.2 L1051.4,797.5 L1058.2,797.1 L1065.0,796.9 L1071.8,796.8 L1078.5,797.0 L1084.9,797.2 L1090.9,797.6 L1096.6,798.2 L1102.2,799.0 L1107.5,799.9 L1112.7,801.1 L1117.7,802.3 L1122.5,803.6 L1127.1,805.0 L1131.6,806.3 L1135.8,807.7 L1139.7,809.1 L1143.5,810.5 L1147.0,812.0 L1150.5,813.6 L1153.9,815.3 L1157.2,817.3 L1160.7,819.4 L1164.1,821.8 L1167.6,824.5 L1171.1,827.4 L1174.5,830.4 L1177.8,833.5 L1181.0,836.6 L1184.0,839.7 L1186.8,842.7 L1189.4,845.5 L1191.9,848.3 L1194.2,851.1 L1196.4,853.9 L1198.4,856.8 L1200.4,859.7 L1202.3,862.7 L1204.3,865.9 L1206.2,869.3 L1208.0,872.8 L1209.9,876.5 L1211.6,880.3 L1213.3,884.0 L1214.8,887.8 L1216.1,891.4 L1217.3,895.0 L1218.3,898.5 L1219.1,902.0 L1219.7,905.5 L1220.2,908.9 L1220.7,912.2 L1221.0,915.4 L1221.3,918.4 L1221.7,921.1 L1222.0,923.7 L1222.3,926.2 L1222.5,928.6 L1222.7,930.8 L1222.8,932.8 L1223.0,934.5 L1223.1,936.0 L1223.1,937.1 L1255.1,927.0 L1217.3,1018.5 L1137.4,958.9 L1170.8,947.3 L1170.7,945.7 L1170.7,943.6 L1170.6,941.2 L1170.5,938.4 L1170.3,935.5 L1170.1,932.5 L1169.8,929.6 L1169.4,927.0 L1168.9,924.4 L1168.4,921.9 L1167.8,919.4 L1167.2,916.9 L1166.5,914.3 L1165.6,911.8 L1164.7,909.2 L1163.6,906.6 L1162.3,903.9 L1160.9,901.2 L1159.4,898.4 L1157.8,895.6 L1156.1,892.8 L1154.3,890.1 L1152.4,887.4 L1150.5,884.8 L1148.4,882.3 L1146.2,879.7 L1143.8,877.2 L1141.4,874.7 L1138.9,872.3 L1136.4,870.1 L1134.0,867.9 L1131.6,865.9 L1129.2,864.1 L1126.9,862.4 L1124.6,860.8 L1122.3,859.4 L1120.0,858.0 L1117.6,856.7 L1115.2,855.5 L1112.7,854.3 L1110.1,853.1 L1107.5,852.0 L1104.8,851.0 L1102.1,850.0 L1099.3,849.1 L1096.5,848.3 L1093.7,847.6 L1090.9,847.0 L1088.1,846.5 L1085.2,846.1 L1082.3,845.9 L1079.4,845.7 L1076.4,845.5 L1073.5,845.5 L1070.6,845.5 L1067.6,845.6 L1064.7,845.7 L1061.9,845.8 L1059.0,846.0 L1056.1,846.3 L1053.2,846.7 L1050.3,847.1 L1047.4,847.7 L1044.4,848.5 L1041.2,849.5 L1037.7,850.7 L1034.1,852.2 L1030.6,853.7 L1027.2,855.3 L1024.2,856.7 L1021.6,857.8 L1019.7,858.6Z" fill="url(#rg)" stroke="#4f9e14" stroke-width="3" stroke-linejoin="round"/>
<path d="M993.5,813.6 L997.0,812.4 L1001.5,810.7 L1006.8,808.6 L1012.8,806.4 L1019.2,804.2 L1025.8,802.1 L1032.3,800.4 L1038.6,799.1 L1044.9,798.2 L1051.4,797.5 L1058.2,797.1 L1065.0,796.9 L1071.8,796.8 L1078.5,797.0 L1084.9,797.2 L1090.9,797.6 L1096.6,798.2 L1102.2,799.0 L1107.5,799.9 L1112.7,801.1 L1117.7,802.3 L1122.5,803.6 L1127.1,805.0 L1131.6,806.3 L1135.8,807.7 L1139.7,809.1 L1143.5,810.5 L1147.0,812.0 L1150.5,813.6 L1153.9,815.3 L1157.2,817.3 L1160.7,819.4 L1164.1,821.8 L1167.6,824.5 L1171.1,827.4 L1174.5,830.4 L1177.8,833.5 L1181.0,836.6 L1184.0,839.7 L1186.8,842.7 L1189.4,845.5 L1191.9,848.3 L1194.2,851.1 L1196.4,853.9 L1198.4,856.8 L1200.4,859.7 L1202.3,862.7 L1204.3,865.9 L1206.2,869.3 L1208.0,872.8 L1209.9,876.5 L1211.6,880.3 L1213.3,884.0 L1214.8,887.8 L1216.1,891.4 L1217.3,895.0 L1218.3,898.5 L1219.1,902.0 L1219.7,905.5 L1220.2,908.9 L1220.7,912.2 L1221.0,915.4 L1221.3,918.4 L1221.7,921.1 L1222.0,923.7 L1222.3,926.2 L1222.5,928.6 L1222.7,930.8 L1222.8,932.8 L1223.0,934.5 L1223.1,936.0 L1223.1,937.1 L1255.1,927.0 L1217.3,1018.5 L1137.4,958.9 L1170.8,947.3 L1170.7,945.7 L1170.7,943.6 L1170.6,941.2 L1170.5,938.4 L1170.3,935.5 L1170.1,932.5 L1169.8,929.6 L1169.4,927.0 L1168.9,924.4 L1168.4,921.9 L1167.8,919.4 L1167.2,916.9 L1166.5,914.3 L1165.6,911.8 L1164.7,909.2 L1163.6,906.6 L1162.3,903.9 L1160.9,901.2 L1159.4,898.4 L1157.8,895.6 L1156.1,892.8 L1154.3,890.1 L1152.4,887.4 L1150.5,884.8 L1148.4,882.3 L1146.2,879.7 L1143.8,877.2 L1141.4,874.7 L1138.9,872.3 L1136.4,870.1 L1134.0,867.9 L1131.6,865.9 L1129.2,864.1 L1126.9,862.4 L1124.6,860.8 L1122.3,859.4 L1120.0,858.0 L1117.6,856.7 L1115.2,855.5 L1112.7,854.3 L1110.1,853.1 L1107.5,852.0 L1104.8,851.0 L1102.1,850.0 L1099.3,849.1 L1096.5,848.3 L1093.7,847.6 L1090.9,847.0 L1088.1,846.5 L1085.2,846.1 L1082.3,845.9 L1079.4,845.7 L1076.4,845.5 L1073.5,845.5 L1070.6,845.5 L1067.6,845.6 L1064.7,845.7 L1061.9,845.8 L1059.0,846.0 L1056.1,846.3 L1053.2,846.7 L1050.3,847.1 L1047.4,847.7 L1044.4,848.5 L1041.2,849.5 L1037.7,850.7 L1034.1,852.2 L1030.6,853.7 L1027.2,855.3 L1024.2,856.7 L1021.6,857.8 L1019.7,858.6Z" fill="#000" filter="url(#inl)"/>
<path d="M1182.5,1050.5 L1180.6,1052.2 L1178.0,1054.5 L1175.1,1057.3 L1171.7,1060.3 L1168.2,1063.5 L1164.6,1066.6 L1161.1,1069.6 L1157.7,1072.3 L1154.6,1074.7 L1151.4,1077.1 L1148.2,1079.5 L1144.9,1081.7 L1141.7,1083.9 L1138.4,1086.0 L1135.0,1087.9 L1131.6,1089.7 L1128.1,1091.4 L1124.5,1092.9 L1120.9,1094.3 L1117.2,1095.6 L1113.6,1096.8 L1109.9,1097.9 L1106.2,1099.0 L1102.5,1099.9 L1098.9,1100.8 L1095.3,1101.5 L1091.6,1102.2 L1088.0,1102.8 L1084.4,1103.3 L1080.7,1103.7 L1077.1,1104.0 L1073.5,1104.3 L1069.8,1104.4 L1066.2,1104.4 L1062.6,1104.4 L1058.9,1104.3 L1055.3,1104.0 L1051.7,1103.7 L1048.0,1103.3 L1044.4,1102.8 L1040.8,1102.2 L1037.2,1101.6 L1033.6,1100.8 L1030.0,1100.0 L1026.4,1099.0 L1022.8,1098.0 L1019.1,1096.8 L1015.3,1095.5 L1011.4,1094.1 L1007.4,1092.5 L1003.3,1090.9 L999.2,1089.1 L995.0,1087.2 L991.0,1085.2 L987.1,1083.1 L983.4,1081.0 L979.8,1078.8 L976.3,1076.4 L972.9,1074.0 L969.5,1071.5 L966.3,1068.9 L963.2,1066.2 L960.1,1063.4 L957.2,1060.7 L954.3,1057.8 L951.6,1054.9 L948.9,1051.8 L946.3,1048.8 L943.8,1045.6 L941.4,1042.4 L939.1,1039.2 L936.9,1035.9 L934.7,1032.6 L932.6,1029.2 L930.7,1025.7 L928.8,1022.1 L927.0,1018.6 L925.3,1015.1 L923.7,1011.7 L922.3,1008.3 L921.0,1005.1 L919.9,1002.0 L918.8,998.9 L917.9,995.8 L917.0,992.8 L916.3,989.7 L915.6,986.7 L915.1,983.6 L914.6,980.5 L914.2,977.4 L914.0,974.2 L913.8,971.0 L913.7,967.9 L913.6,964.8 L913.6,961.8 L913.6,958.9 L913.6,956.2 L913.7,953.5 L913.9,950.9 L914.1,948.4 L914.3,945.9 L914.5,943.5 L914.8,941.0 L915.1,938.6 L915.4,936.0 L915.7,933.3 L916.2,930.6 L916.6,927.9 L917.0,925.3 L917.4,923.0 L917.7,921.1 L918.0,919.7 L886.0,912.4 L957.2,845.6 L1005.2,931.3 L967.4,927.0 L967.1,928.5 L966.7,930.6 L966.3,933.1 L965.8,935.9 L965.4,938.8 L965.0,941.7 L964.6,944.6 L964.5,947.3 L964.4,949.8 L964.4,952.4 L964.4,954.9 L964.6,957.4 L964.8,959.9 L965.0,962.5 L965.4,965.0 L965.9,967.6 L966.5,970.3 L967.2,973.0 L968.0,975.7 L968.8,978.5 L969.8,981.2 L970.8,984.0 L972.0,986.7 L973.2,989.4 L974.5,992.2 L976.0,995.0 L977.5,997.9 L979.2,1000.7 L980.9,1003.5 L982.7,1006.2 L984.4,1008.8 L986.3,1011.2 L988.1,1013.5 L990.0,1015.7 L991.9,1017.8 L993.9,1019.8 L995.9,1021.7 L998.0,1023.6 L1000.1,1025.4 L1002.2,1027.2 L1004.4,1029.0 L1006.7,1030.8 L1008.9,1032.5 L1011.2,1034.2 L1013.6,1035.8 L1016.0,1037.4 L1018.6,1038.9 L1021.1,1040.3 L1023.8,1041.7 L1026.6,1043.0 L1029.5,1044.3 L1032.5,1045.5 L1035.5,1046.7 L1038.5,1047.8 L1041.5,1048.7 L1044.4,1049.6 L1047.3,1050.4 L1050.2,1051.1 L1053.1,1051.7 L1056.0,1052.2 L1058.9,1052.6 L1061.8,1053.0 L1064.7,1053.2 L1067.6,1053.4 L1070.6,1053.5 L1073.5,1053.4 L1076.5,1053.3 L1079.5,1053.1 L1082.4,1052.8 L1085.3,1052.4 L1088.1,1051.9 L1090.9,1051.4 L1093.6,1050.6 L1096.3,1049.8 L1098.9,1048.8 L1101.4,1047.8 L1104.0,1046.7 L1106.4,1045.5 L1108.9,1044.4 L1111.2,1043.2 L1113.6,1042.1 L1115.9,1040.8 L1118.1,1039.6 L1120.3,1038.3 L1122.5,1037.1 L1124.6,1035.7 L1126.7,1034.4 L1128.7,1033.0 L1130.7,1031.6 L1132.9,1030.0 L1135.0,1028.3 L1137.0,1026.6 L1139.0,1025.0 L1140.7,1023.5 L1142.1,1022.3 L1143.2,1021.4Z" fill="url(#rg)" stroke="#4f9e14" stroke-width="3" stroke-linejoin="round"/>
<path d="M1182.5,1050.5 L1180.6,1052.2 L1178.0,1054.5 L1175.1,1057.3 L1171.7,1060.3 L1168.2,1063.5 L1164.6,1066.6 L1161.1,1069.6 L1157.7,1072.3 L1154.6,1074.7 L1151.4,1077.1 L1148.2,1079.5 L1144.9,1081.7 L1141.7,1083.9 L1138.4,1086.0 L1135.0,1087.9 L1131.6,1089.7 L1128.1,1091.4 L1124.5,1092.9 L1120.9,1094.3 L1117.2,1095.6 L1113.6,1096.8 L1109.9,1097.9 L1106.2,1099.0 L1102.5,1099.9 L1098.9,1100.8 L1095.3,1101.5 L1091.6,1102.2 L1088.0,1102.8 L1084.4,1103.3 L1080.7,1103.7 L1077.1,1104.0 L1073.5,1104.3 L1069.8,1104.4 L1066.2,1104.4 L1062.6,1104.4 L1058.9,1104.3 L1055.3,1104.0 L1051.7,1103.7 L1048.0,1103.3 L1044.4,1102.8 L1040.8,1102.2 L1037.2,1101.6 L1033.6,1100.8 L1030.0,1100.0 L1026.4,1099.0 L1022.8,1098.0 L1019.1,1096.8 L1015.3,1095.5 L1011.4,1094.1 L1007.4,1092.5 L1003.3,1090.9 L999.2,1089.1 L995.0,1087.2 L991.0,1085.2 L987.1,1083.1 L983.4,1081.0 L979.8,1078.8 L976.3,1076.4 L972.9,1074.0 L969.5,1071.5 L966.3,1068.9 L963.2,1066.2 L960.1,1063.4 L957.2,1060.7 L954.3,1057.8 L951.6,1054.9 L948.9,1051.8 L946.3,1048.8 L943.8,1045.6 L941.4,1042.4 L939.1,1039.2 L936.9,1035.9 L934.7,1032.6 L932.6,1029.2 L930.7,1025.7 L928.8,1022.1 L927.0,1018.6 L925.3,1015.1 L923.7,1011.7 L922.3,1008.3 L921.0,1005.1 L919.9,1002.0 L918.8,998.9 L917.9,995.8 L917.0,992.8 L916.3,989.7 L915.6,986.7 L915.1,983.6 L914.6,980.5 L914.2,977.4 L914.0,974.2 L913.8,971.0 L913.7,967.9 L913.6,964.8 L913.6,961.8 L913.6,958.9 L913.6,956.2 L913.7,953.5 L913.9,950.9 L914.1,948.4 L914.3,945.9 L914.5,943.5 L914.8,941.0 L915.1,938.6 L915.4,936.0 L915.7,933.3 L916.2,930.6 L916.6,927.9 L917.0,925.3 L917.4,923.0 L917.7,921.1 L918.0,919.7 L886.0,912.4 L957.2,845.6 L1005.2,931.3 L967.4,927.0 L967.1,928.5 L966.7,930.6 L966.3,933.1 L965.8,935.9 L965.4,938.8 L965.0,941.7 L964.6,944.6 L964.5,947.3 L964.4,949.8 L964.4,952.4 L964.4,954.9 L964.6,957.4 L964.8,959.9 L965.0,962.5 L965.4,965.0 L965.9,967.6 L966.5,970.3 L967.2,973.0 L968.0,975.7 L968.8,978.5 L969.8,981.2 L970.8,984.0 L972.0,986.7 L973.2,989.4 L974.5,992.2 L976.0,995.0 L977.5,997.9 L979.2,1000.7 L980.9,1003.5 L982.7,1006.2 L984.4,1008.8 L986.3,1011.2 L988.1,1013.5 L990.0,1015.7 L991.9,1017.8 L993.9,1019.8 L995.9,1021.7 L998.0,1023.6 L1000.1,1025.4 L1002.2,1027.2 L1004.4,1029.0 L1006.7,1030.8 L1008.9,1032.5 L1011.2,1034.2 L1013.6,1035.8 L1016.0,1037.4 L1018.6,1038.9 L1021.1,1040.3 L1023.8,1041.7 L1026.6,1043.0 L1029.5,1044.3 L1032.5,1045.5 L1035.5,1046.7 L1038.5,1047.8 L1041.5,1048.7 L1044.4,1049.6 L1047.3,1050.4 L1050.2,1051.1 L1053.1,1051.7 L1056.0,1052.2 L1058.9,1052.6 L1061.8,1053.0 L1064.7,1053.2 L1067.6,1053.4 L1070.6,1053.5 L1073.5,1053.4 L1076.5,1053.3 L1079.5,1053.1 L1082.4,1052.8 L1085.3,1052.4 L1088.1,1051.9 L1090.9,1051.4 L1093.6,1050.6 L1096.3,1049.8 L1098.9,1048.8 L1101.4,1047.8 L1104.0,1046.7 L1106.4,1045.5 L1108.9,1044.4 L1111.2,1043.2 L1113.6,1042.1 L1115.9,1040.8 L1118.1,1039.6 L1120.3,1038.3 L1122.5,1037.1 L1124.6,1035.7 L1126.7,1034.4 L1128.7,1033.0 L1130.7,1031.6 L1132.9,1030.0 L1135.0,1028.3 L1137.0,1026.6 L1139.0,1025.0 L1140.7,1023.5 L1142.1,1022.3 L1143.2,1021.4Z" fill="#000" filter="url(#inl)"/>
<rect x="3" y="25.5" width="613.5" height="108" rx="54" fill="#ee8a22"/>
<rect x="3" y="59" width="613.5" height="20.5" fill="#ee8a22"/>
<rect x="3" y="5" width="613.5" height="108" rx="54" fill="#f8b350"/>
<rect x="741" y="349" width="720" height="185.5" rx="48" fill="#ee8a22"/>
<rect x="741" y="370" width="720" height="27" fill="#ee8a22"/>
<rect x="741" y="322" width="720" height="185.5" rx="48" fill="#f8b350"/>
<rect x="114" y="931" width="740" height="126" rx="58" fill="#ee8a22"/>
<rect x="114" y="965" width="740" height="24" fill="#ee8a22"/>
<rect x="114" y="907" width="740" height="126" rx="58" fill="#f8b350"/>
<text transform="translate(28.8,85.5) scale(0.78,1)" x="0" y="0" font-size="68.5" fill="#fffefa" stroke="#fffefa" stroke-width="4.6" stroke-linejoin="miter" stroke-miterlimit="3" vector-effect="non-scaling-stroke" textLength="720.4" lengthAdjust="spacing">Innovation Design</text>
<text transform="translate(860.25,384.05) scale(0.8,1)" x="0" y="0" font-size="54.5" fill="#0a0a0a" stroke="#0a0a0a" stroke-width="3.5" stroke-linejoin="miter" stroke-miterlimit="3" vector-effect="non-scaling-stroke" textLength="610.0" lengthAdjust="spacing">Lockable Screw and</text>
<text transform="translate(1010.75,438.45) scale(0.8,1)" x="0" y="0" font-size="54.5" fill="#0a0a0a" stroke="#0a0a0a" stroke-width="3.5" stroke-linejoin="miter" stroke-miterlimit="3" vector-effect="non-scaling-stroke" textLength="235.0" lengthAdjust="spacing">Bracket</text>
<text transform="translate(768.85,492.85) scale(0.79,1)" x="0" y="0" font-size="54.5" fill="#0a0a0a" stroke="#0a0a0a" stroke-width="3.5" stroke-linejoin="miter" stroke-miterlimit="3" vector-effect="non-scaling-stroke" textLength="847.5" lengthAdjust="spacing">Adjustable From 2.5” to 3.7”</text>
<text transform="translate(191.4,957.1) scale(0.73,1)" x="0" y="0" font-size="53.8" fill="#0a0a0a" stroke="#0a0a0a" stroke-width="4.2" stroke-linejoin="miter" stroke-miterlimit="3" vector-effect="non-scaling-stroke" textLength="804.1" lengthAdjust="spacing">Fastening the Screw to</text>
<text transform="translate(169.6,1022.4999999999999) scale(0.73,1)" x="0" y="0" font-size="53.8" fill="#0a0a0a" stroke="#0a0a0a" stroke-width="4.2" stroke-linejoin="miter" stroke-miterlimit="3" vector-effect="non-scaling-stroke" textLength="868.8" lengthAdjust="spacing">Lock the Hooks Firmly on</text>
</svg></body></html>
